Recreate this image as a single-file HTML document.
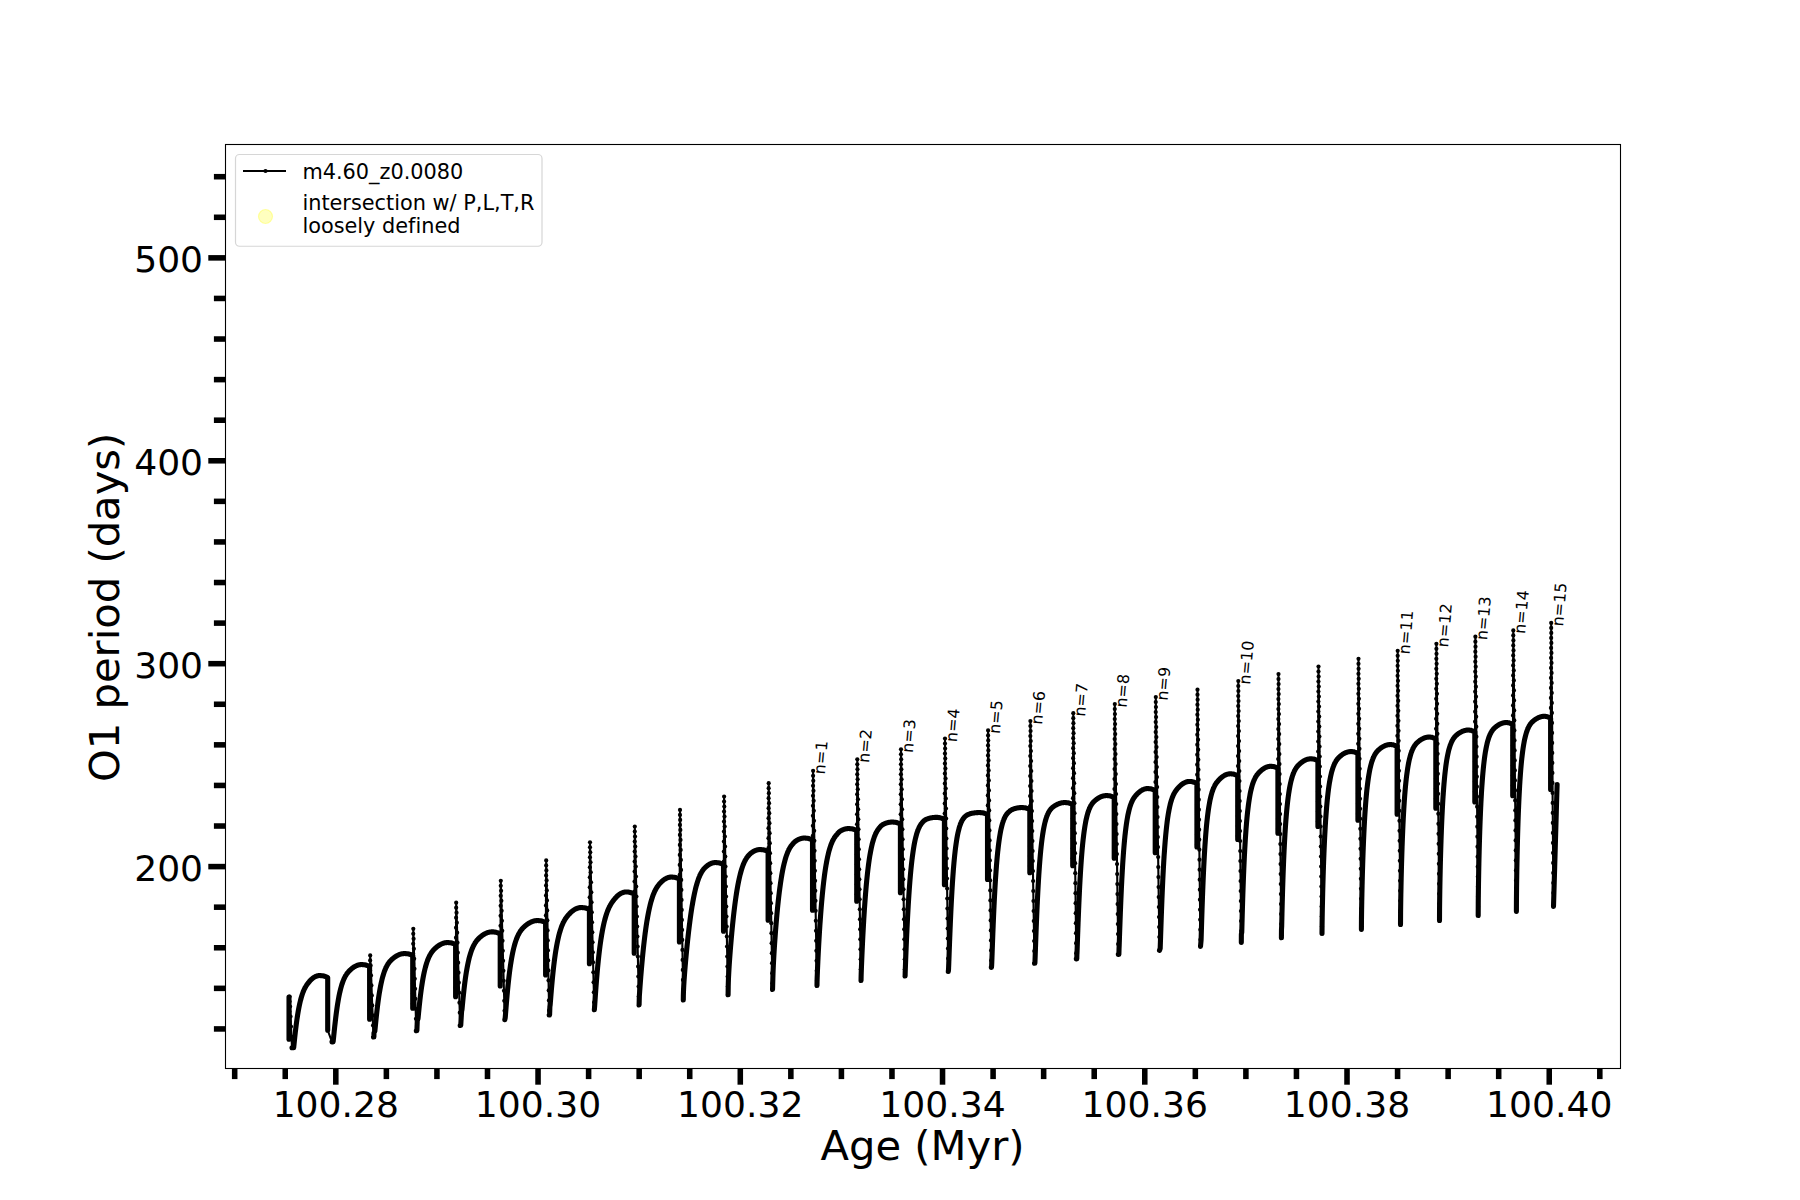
<!DOCTYPE html>
<html><head><meta charset="utf-8"><title>O1 period vs Age</title>
<style>
html,body{margin:0;padding:0;background:#fff;}
body{width:1800px;height:1200px;overflow:hidden;}
svg{display:block;font-family:"DejaVu Sans","Liberation Sans",sans-serif;font-variant-ligatures:none;font-feature-settings:"liga" 0,"clig" 0;}
</style></head><body>
<svg width="1800" height="1200" viewBox="0 0 1800 1200">
<rect width="1800" height="1200" fill="#fff"/>
<g fill="none" stroke="#000" stroke-linejoin="round" stroke-linecap="round">
<g stroke-width="2.1"><path d="M289 1039.25L289.6 996.6L292 1047.75"/><path d="M327.7 1030.25L332 1041.85"/><path d="M369.6 1019.25L370.2 955.4L373.5 1036.95"/><path d="M412.7 1008.25L413.3 928.8L416.3 1030.75"/><path d="M455.6 996.75L456.2 902.7L460.2 1025.45"/><path d="M500.2 985.95L500.8 880.8L504.8 1019.75"/><path d="M545.6 974.95L546.2 860.4L549.2 1014.95"/><path d="M589.4 963.65L590 842.3L594.3 1009.75"/><path d="M634.2 953.25L634.8 826.5L639 1004.95"/><path d="M679.4 942.05L680 809.9L683.3 999.95"/><path d="M723.5 931.25L724.1 796.5L728 994.75"/><path d="M768.1 920.25L768.7 783.2L772.5 989.55"/><path d="M812.5 910.25L813.1 770.8L817 985.45"/><path d="M856.7 901.25L857.3 759.3L861 980.45"/><path d="M900.4 892.75L901 749.3L905 976.05"/><path d="M944.4 884.75L945 738.5L948.3 971.55"/><path d="M987.5 879.55L988.1 730.4L991.3 967.35"/><path d="M1029.8 872.75L1030.4 721L1034.5 963.25"/><path d="M1072.7 865.75L1073.3 713.2L1076.3 958.85"/><path d="M1114.2 858.25L1114.8 704.1L1118.3 954.35"/><path d="M1155.2 852.75L1155.8 697.1L1159.5 950.45"/><path d="M1196.9 847L1197.5 689.7L1200.5 946.35"/><path d="M1237.7 839.5L1238.3 681L1241.3 942.35"/><path d="M1277.9 833.25L1278.5 674.1L1281.4 937.75"/><path d="M1317.9 826.5L1318.5 666.5L1322 933.45"/><path d="M1357.9 820.25L1358.5 658.8L1361.4 929.35"/><path d="M1397.1 814.25L1397.7 650.8L1400.5 924.55"/><path d="M1435.8 808.25L1436.4 643.8L1439.5 920.45"/><path d="M1474.8 802L1475.4 636.7L1478.2 915.45"/><path d="M1512.7 795.75L1513.3 630.4L1516.4 911.35"/><path d="M1550.6 789.5L1551.2 622.9L1553.5 906.35"/></g>
<g stroke-width="5.1"><path d="M289 997.05L289 1039.25"/><path d="M292 1047.75L293.67 1047.75L293.88 1045.75L294.08 1043.75L294.29 1041.75L294.49 1039.75L294.71 1037.75L294.92 1035.75L295.14 1033.75L295.26 1032.75L295.37 1031.75L295.49 1030.75L295.61 1029.75L295.73 1028.75L295.85 1027.75L295.97 1026.75L296.1 1025.75L296.22 1024.75L296.35 1023.75L296.49 1022.75L296.62 1021.75L296.76 1020.75L296.9 1019.75L297.04 1018.75L297.19 1017.75L297.34 1016.75L297.5 1015.75L297.65 1014.75L297.82 1013.75L297.98 1012.75L298.15 1011.75L298.33 1010.75L298.51 1009.75L298.69 1008.75L298.88 1007.75L299.08 1006.75L299.29 1005.75L299.5 1004.75L299.71 1003.75L299.94 1002.75L300.18 1001.75L300.42 1000.75L300.68 999.75L300.94 998.75L301.22 997.75L301.51 996.75L301.82 995.75L302.14 994.75L302.48 993.75L302.84 992.75L303.22 991.75L303.63 990.75L304.07 989.75L304.18 989.5L304.3 989.25L304.42 989L304.54 988.75L304.66 988.5L304.79 988.25L304.92 988L305.05 987.75L305.18 987.5L305.32 987.25L305.46 987L305.61 986.75L305.75 986.5L305.9 986.25L306.06 986L306.22 985.75L306.38 985.5L306.51 985.3L306.95 984.66L307.39 984.04L307.83 983.45L308.27 982.87L308.71 982.32L309.15 981.79L309.59 981.28L310.03 980.79L310.47 980.33L310.91 979.88L311.35 979.46L311.79 979.06L312.23 978.68L312.67 978.32L313.11 977.99L313.55 977.67L313.99 977.38L314.43 977.11L314.87 976.86L315.3 976.63L315.74 976.43L316.18 976.24L316.62 976.08L317.06 975.94L317.5 975.82L317.94 975.72L318.38 975.65L318.82 975.59L319.26 975.56L319.7 975.55L320.7 975.58L321.7 975.67L322.7 975.83L323.7 976.05L324.7 976.33L325.7 976.67L326.7 977.08L327.7 977.55L327.7 978.55L327.7 1030.25"/><path d="M332 1041.85L333.14 1041.85L333.35 1039.85L333.56 1037.85L333.76 1035.85L333.97 1033.85L334.17 1031.85L334.38 1029.85L334.59 1027.85L334.8 1025.85L335.02 1023.85L335.13 1022.85L335.25 1021.85L335.36 1020.85L335.48 1019.85L335.59 1018.85L335.71 1017.85L335.83 1016.85L335.96 1015.85L336.08 1014.85L336.21 1013.85L336.34 1012.85L336.47 1011.85L336.61 1010.85L336.75 1009.85L336.89 1008.85L337.03 1007.85L337.18 1006.85L337.33 1005.85L337.48 1004.85L337.64 1003.85L337.8 1002.85L337.97 1001.85L338.14 1000.85L338.31 999.85L338.49 998.85L338.67 997.85L338.87 996.85L339.06 995.85L339.27 994.85L339.48 993.85L339.69 992.85L339.92 991.85L340.15 990.85L340.4 989.85L340.65 988.85L340.91 987.85L341.19 986.85L341.48 985.85L341.78 984.85L342.1 983.85L342.44 982.85L342.8 981.85L343.18 980.85L343.59 979.85L344.02 978.85L344.13 978.6L344.25 978.35L344.37 978.1L344.49 977.85L344.61 977.6L344.74 977.35L344.87 977.1L345 976.85L345.13 976.6L345.27 976.35L345.41 976.1L345.55 975.85L345.69 975.6L345.84 975.35L346 975.1L346.15 974.85L346.32 974.6L346.48 974.35L346.65 974.1L346.83 973.85L347.01 973.6L347.19 973.35L347.38 973.1L347.58 972.85L347.78 972.6L347.99 972.35L348.21 972.1L348.7 971.56L349.15 971.08L349.59 970.62L350.04 970.18L350.48 969.76L350.93 969.35L351.37 968.96L351.81 968.58L352.26 968.22L352.7 967.88L353.15 967.56L353.59 967.25L354.04 966.96L354.48 966.68L354.93 966.42L355.37 966.18L355.82 965.96L356.26 965.75L356.71 965.56L357.15 965.38L357.6 965.22L358.04 965.08L358.49 964.96L358.93 964.85L359.38 964.76L359.82 964.68L360.27 964.62L360.71 964.58L361.16 964.56L361.6 964.55L362.6 964.58L363.6 964.67L364.6 964.83L365.6 965.05L366.6 965.33L367.6 965.67L368.6 966.08L369.6 966.55L369.6 967.55L369.6 1019.25"/><path d="M373.5 1036.95L373.89 1036.95L373.97 1032.95L374.86 1030.95L375.06 1028.95L375.26 1026.95L375.46 1024.95L375.66 1022.95L375.86 1020.95L376.07 1018.95L376.28 1016.95L376.49 1014.95L376.71 1012.95L376.82 1011.95L376.93 1010.95L377.05 1009.95L377.17 1008.95L377.28 1007.95L377.4 1006.95L377.53 1005.95L377.65 1004.95L377.78 1003.95L377.9 1002.95L378.04 1001.95L378.17 1000.95L378.31 999.95L378.45 998.95L378.59 997.95L378.73 996.95L378.88 995.95L379.03 994.95L379.19 993.95L379.35 992.95L379.51 991.95L379.68 990.95L379.85 989.95L380.03 988.95L380.21 987.95L380.4 986.95L380.59 985.95L380.79 984.95L381 983.95L381.21 982.95L381.44 981.95L381.67 980.95L381.9 979.95L382.15 978.95L382.41 977.95L382.68 976.95L382.96 975.95L383.26 974.95L383.56 973.95L383.89 972.95L384.23 971.95L384.6 970.95L384.99 969.95L385.4 968.95L385.84 967.95L385.96 967.7L386.07 967.45L386.19 967.2L386.32 966.95L386.44 966.7L386.57 966.45L386.7 966.2L386.83 965.95L386.97 965.7L387.11 965.45L387.25 965.2L387.39 964.95L387.54 964.7L387.69 964.45L387.85 964.2L388.01 963.95L388.17 963.7L388.34 963.45L388.51 963.2L388.69 962.95L388.87 962.7L389.06 962.45L389.25 962.2L389.45 961.95L389.66 961.7L389.87 961.45L390.09 961.2L390.32 960.95L390.55 960.7L390.8 960.45L390.95 960.3L391.41 959.86L391.87 959.43L392.33 959.02L392.78 958.62L393.24 958.24L393.7 957.87L394.16 957.52L394.62 957.18L395.08 956.86L395.53 956.55L395.99 956.26L396.45 955.98L396.91 955.72L397.37 955.47L397.83 955.24L398.28 955.02L398.74 954.82L399.2 954.63L399.66 954.46L400.12 954.3L400.58 954.16L401.03 954.03L401.49 953.92L401.95 953.82L402.41 953.74L402.87 953.67L403.33 953.62L403.78 953.58L404.24 953.56L404.7 953.55L405.7 953.58L406.7 953.67L407.7 953.83L408.7 954.05L409.7 954.33L410.7 954.67L411.7 955.08L412.7 955.55L412.7 956.55L412.7 1008.25"/><path d="M416.3 1030.75L416.88 1030.75L416.96 1028.75L417.04 1026.75L417.12 1024.75L417.2 1022.75L417.29 1020.75L418.01 1018.75L418.2 1016.75L418.39 1014.75L418.59 1012.75L418.79 1010.75L418.99 1008.75L419.19 1006.75L419.4 1004.75L419.62 1002.75L419.84 1000.75L419.96 999.75L420.07 998.75L420.19 997.75L420.31 996.75L420.43 995.75L420.55 994.75L420.68 993.75L420.81 992.75L420.94 991.75L421.07 990.75L421.21 989.75L421.35 988.75L421.49 987.75L421.63 986.75L421.78 985.75L421.93 984.75L422.09 983.75L422.25 982.75L422.41 981.75L422.58 980.75L422.75 979.75L422.92 978.75L423.11 977.75L423.29 976.75L423.49 975.75L423.68 974.75L423.89 973.75L424.1 972.75L424.32 971.75L424.55 970.75L424.78 969.75L425.03 968.75L425.28 967.75L425.55 966.75L425.83 965.75L426.12 964.75L426.42 963.75L426.74 962.75L427.08 961.75L427.43 960.75L427.81 959.75L428.21 958.75L428.64 957.75L429.1 956.75L429.22 956.5L429.34 956.25L429.47 956L429.59 955.75L429.72 955.5L429.86 955.25L429.99 955L430.13 954.75L430.27 954.5L430.42 954.25L430.56 954L430.71 953.75L430.87 953.5L431.03 953.25L431.19 953L431.36 952.75L431.53 952.5L431.7 952.25L431.88 952L432.07 951.75L432.26 951.5L432.46 951.25L432.66 951L432.87 950.75L433.09 950.5L433.31 950.25L433.5 950.05L433.97 949.56L434.44 949.08L434.91 948.62L435.38 948.18L435.85 947.76L436.32 947.35L436.79 946.96L437.26 946.58L437.73 946.22L438.2 945.88L438.67 945.56L439.14 945.25L439.61 944.96L440.08 944.68L440.55 944.42L441.02 944.18L441.49 943.96L441.96 943.75L442.43 943.56L442.9 943.38L443.37 943.22L443.84 943.08L444.31 942.96L444.78 942.85L445.25 942.76L445.72 942.68L446.19 942.62L446.66 942.58L447.13 942.56L447.6 942.55L448.6 942.58L449.6 942.67L450.6 942.83L451.6 943.05L452.6 943.33L453.6 943.67L454.6 944.08L455.6 944.55L455.6 945.55L455.6 996.75"/><path d="M460.2 1025.45L460.74 1025.45L460.86 1023.45L460.98 1021.45L461.1 1019.45L461.22 1017.45L461.34 1015.45L461.47 1013.45L461.59 1011.45L462 1009.45L462.18 1007.45L462.37 1005.45L462.56 1003.45L462.75 1001.45L462.95 999.45L463.15 997.45L463.36 995.45L463.57 993.45L463.79 991.45L463.9 990.45L464.01 989.45L464.13 988.45L464.24 987.45L464.36 986.45L464.48 985.45L464.61 984.45L464.73 983.45L464.86 982.45L464.99 981.45L465.13 980.45L465.26 979.45L465.4 978.45L465.54 977.45L465.69 976.45L465.84 975.45L465.99 974.45L466.15 973.45L466.31 972.45L466.47 971.45L466.64 970.45L466.81 969.45L466.99 968.45L467.17 967.45L467.36 966.45L467.55 965.45L467.75 964.45L467.96 963.45L468.17 962.45L468.39 961.45L468.62 960.45L468.86 959.45L469.1 958.45L469.36 957.45L469.63 956.45L469.91 955.45L470.2 954.45L470.5 953.45L470.82 952.45L471.16 951.45L471.52 950.45L471.89 949.45L472.29 948.45L472.72 947.45L473.17 946.45L473.29 946.2L473.41 945.95L473.54 945.7L473.66 945.45L473.79 945.2L473.92 944.95L474.06 944.7L474.2 944.45L474.33 944.2L474.48 943.95L474.62 943.7L474.77 943.45L474.92 943.2L475.08 942.95L475.24 942.7L475.4 942.45L475.57 942.2L475.75 941.95L475.92 941.7L476.1 941.45L476.29 941.2L476.48 940.95L476.68 940.7L476.89 940.45L477.1 940.2L477.31 939.95L477.54 939.7L477.77 939.45L477.86 939.35L478.34 938.86L478.82 938.38L479.3 937.92L479.78 937.48L480.25 937.06L480.73 936.65L481.21 936.26L481.69 935.88L482.17 935.52L482.64 935.18L483.12 934.86L483.6 934.55L484.08 934.26L484.55 933.98L485.03 933.72L485.51 933.48L485.99 933.26L486.47 933.05L486.94 932.86L487.42 932.68L487.9 932.52L488.38 932.38L488.86 932.26L489.33 932.15L489.81 932.06L490.29 931.98L490.77 931.92L491.24 931.88L491.72 931.86L492.2 931.85L493.2 931.88L494.2 931.97L495.2 932.13L496.2 932.35L497.2 932.63L498.2 932.97L499.2 933.38L500.2 933.85L500.2 934.85L500.2 985.95"/><path d="M504.8 1019.75L504.8 1019.75L505.22 1017.75L505.39 1015.75L505.55 1013.75L505.71 1011.75L505.87 1009.75L506.03 1007.75L506.19 1005.75L506.36 1003.75L506.52 1001.75L506.69 999.75L506.87 997.75L507.04 995.75L507.22 993.75L507.41 991.75L507.6 989.75L507.79 987.75L507.99 985.75L508.2 983.75L508.41 981.75L508.63 979.75L508.74 978.75L508.86 977.75L508.97 976.75L509.09 975.75L509.21 974.75L509.34 973.75L509.46 972.75L509.59 971.75L509.72 970.75L509.85 969.75L509.99 968.75L510.13 967.75L510.27 966.75L510.42 965.75L510.56 964.75L510.72 963.75L510.87 962.75L511.03 961.75L511.2 960.75L511.36 959.75L511.54 958.75L511.71 957.75L511.9 956.75L512.08 955.75L512.28 954.75L512.48 953.75L512.68 952.75L512.9 951.75L513.12 950.75L513.34 949.75L513.58 948.75L513.83 947.75L514.08 946.75L514.35 945.75L514.62 944.75L514.91 943.75L515.22 942.75L515.53 941.75L515.87 940.75L516.22 939.75L516.59 938.75L516.99 937.75L517.41 936.75L517.85 935.75L518.33 934.75L518.46 934.5L518.59 934.25L518.72 934L518.85 933.75L518.99 933.5L519.12 933.25L519.27 933L519.41 932.75L519.56 932.5L519.71 932.25L519.86 932L520.02 931.75L520.18 931.5L520.35 931.25L520.52 931L520.69 930.75L520.87 930.5L521.06 930.25L521.25 930L521.44 929.75L521.64 929.5L521.85 929.25L522.06 929L522.28 928.75L522.51 928.5L522.74 928.25L522.93 928.05L523.42 927.56L523.91 927.08L524.4 926.62L524.89 926.18L525.38 925.76L525.87 925.35L526.36 924.96L526.84 924.58L527.33 924.22L527.82 923.88L528.31 923.56L528.8 923.25L529.29 922.96L529.78 922.68L530.27 922.42L530.76 922.18L531.24 921.96L531.73 921.75L532.22 921.56L532.71 921.38L533.2 921.22L533.69 921.08L534.18 920.96L534.67 920.85L535.16 920.76L535.64 920.68L536.13 920.62L536.62 920.58L537.11 920.56L537.6 920.55L538.6 920.58L539.6 920.67L540.6 920.83L541.6 921.05L542.6 921.33L543.6 921.67L544.6 922.08L545.6 922.55L545.6 923.55L545.6 974.95"/><path d="M549.2 1014.95L549.6 1014.95L549.67 1012.95L549.74 1010.95L549.81 1008.95L549.88 1006.95L550.15 1004.95L550.31 1002.95L550.47 1000.95L550.63 998.95L550.79 996.95L550.95 994.95L551.11 992.95L551.28 990.95L551.44 988.95L551.62 986.95L551.79 984.95L551.98 982.95L552.16 980.95L552.35 978.95L552.55 976.95L552.75 974.95L552.96 972.95L553.17 970.95L553.39 968.95L553.62 966.95L553.73 965.95L553.85 964.95L553.97 963.95L554.1 962.95L554.22 961.95L554.35 960.95L554.48 959.95L554.61 958.95L554.75 957.95L554.89 956.95L555.03 955.95L555.17 954.95L555.32 953.95L555.47 952.95L555.62 951.95L555.78 950.95L555.94 949.95L556.11 948.95L556.28 947.95L556.45 946.95L556.63 945.95L556.82 944.95L557.01 943.95L557.2 942.95L557.4 941.95L557.61 940.95L557.82 939.95L558.04 938.95L558.27 937.95L558.5 936.95L558.74 935.95L559 934.95L559.26 933.95L559.53 932.95L559.82 931.95L560.11 930.95L560.42 929.95L560.75 928.95L561.09 927.95L561.45 926.95L561.83 925.95L562.23 924.95L562.66 923.95L563.11 922.95L563.6 921.95L563.73 921.7L563.85 921.45L563.99 921.2L564.12 920.95L564.26 920.7L564.4 920.45L564.54 920.2L564.69 919.95L564.84 919.7L564.99 919.45L565.14 919.2L565.3 918.95L565.46 918.7L565.63 918.45L565.8 918.2L565.98 917.95L566.16 917.7L566.34 917.45L566.53 917.2L566.64 917.05L567.14 916.43L567.63 915.83L568.12 915.25L568.61 914.69L569.1 914.15L569.6 913.63L570.09 913.13L570.58 912.66L571.07 912.2L571.56 911.77L572.05 911.36L572.55 910.97L573.04 910.6L573.53 910.25L574.02 909.92L574.51 909.62L575.01 909.33L575.5 909.07L575.99 908.83L576.48 908.61L576.97 908.4L577.47 908.23L577.96 908.07L578.45 907.93L578.94 907.81L579.43 907.72L579.92 907.64L580.42 907.59L580.91 907.56L581.4 907.55L582.4 907.58L583.4 907.67L584.4 907.83L585.4 908.05L586.4 908.33L587.4 908.67L588.4 909.08L589.4 909.55L589.4 910.55L589.4 963.65"/><path d="M594.3 1009.75L594.37 1009.75L594.52 1007.75L594.66 1005.75L594.8 1003.75L594.93 1001.75L595.07 999.75L595.2 997.75L595.34 995.75L595.48 993.75L595.63 991.75L595.77 989.75L595.92 987.75L596.07 985.75L596.23 983.75L596.38 981.75L596.54 979.75L596.71 977.75L596.88 975.75L597.05 973.75L597.22 971.75L597.4 969.75L597.59 967.75L597.78 965.75L597.98 963.75L598.18 961.75L598.38 959.75L598.6 957.75L598.82 955.75L599.05 953.75L599.28 951.75L599.4 950.75L599.52 949.75L599.65 948.75L599.78 947.75L599.9 946.75L600.04 945.75L600.17 944.75L600.31 943.75L600.45 942.75L600.59 941.75L600.74 940.75L600.88 939.75L601.04 938.75L601.19 937.75L601.35 936.75L601.51 935.75L601.68 934.75L601.85 933.75L602.03 932.75L602.2 931.75L602.39 930.75L602.58 929.75L602.77 928.75L602.97 927.75L603.18 926.75L603.39 925.75L603.61 924.75L603.83 923.75L604.06 922.75L604.3 921.75L604.55 920.75L604.81 919.75L605.08 918.75L605.36 917.75L605.65 916.75L605.95 915.75L606.26 914.75L606.59 913.75L606.94 912.75L607.3 911.75L607.68 910.75L608.09 909.75L608.52 908.75L608.97 907.75L609.46 906.75L609.59 906.5L609.71 906.25L609.85 906L609.98 905.75L610.12 905.5L610.26 905.25L610.4 905L610.54 904.75L610.69 904.5L610.84 904.25L610.99 904L611.15 903.75L611.68 902.93L612.18 902.19L612.68 901.47L613.18 900.78L613.68 900.11L614.19 899.47L614.69 898.86L615.19 898.27L615.69 897.71L616.19 897.17L616.69 896.66L617.19 896.18L617.69 895.72L618.19 895.29L618.69 894.89L619.19 894.51L619.69 894.16L620.19 893.83L620.69 893.53L621.19 893.26L621.69 893.01L622.2 892.79L622.7 892.59L623.2 892.42L623.7 892.28L624.2 892.16L624.7 892.07L625.2 892L625.7 891.96L626.2 891.95L627.2 891.98L628.2 892.07L629.2 892.23L630.2 892.45L631.2 892.73L632.2 893.07L633.2 893.48L634.2 893.95L634.2 894.95L634.2 953.25"/><path d="M639 1004.95L639.11 1004.95L639.21 1000.95L639.26 998.95L639.32 996.95L639.42 994.95L639.56 992.95L639.7 990.95L639.85 988.95L639.99 986.95L640.14 984.95L640.29 982.95L640.44 980.95L640.59 978.95L640.75 976.95L640.91 974.95L641.08 972.95L641.25 970.95L641.42 968.95L641.59 966.95L641.77 964.95L641.95 962.95L642.13 960.95L642.32 958.95L642.51 956.95L642.71 954.95L642.91 952.95L643.12 950.95L643.33 948.95L643.54 946.95L643.76 944.95L643.99 942.95L644.22 940.95L644.46 938.95L644.7 936.95L644.83 935.95L644.95 934.95L645.08 933.95L645.21 932.95L645.35 931.95L645.48 930.95L645.62 929.95L645.76 928.95L645.9 927.95L646.05 926.95L646.19 925.95L646.34 924.95L646.5 923.95L646.65 922.95L646.81 921.95L646.97 920.95L647.14 919.95L647.31 918.95L647.48 917.95L647.66 916.95L647.84 915.95L648.02 914.95L648.21 913.95L648.4 912.95L648.6 911.95L648.81 910.95L649.02 909.95L649.23 908.95L649.46 907.95L649.69 906.95L649.92 905.95L650.17 904.95L650.42 903.95L650.68 902.95L650.95 901.95L651.23 900.95L651.52 899.95L651.83 898.95L652.15 897.95L652.48 896.95L652.83 895.95L653.2 894.95L653.58 893.95L653.99 892.95L654.43 891.95L654.54 891.7L654.66 891.45L654.77 891.2L654.89 890.95L655.01 890.7L655.14 890.45L655.26 890.2L655.39 889.95L655.52 889.7L655.65 889.45L655.79 889.2L655.93 888.95L656.07 888.7L656.21 888.45L656.36 888.2L656.51 887.95L656.66 887.7L656.82 887.45L656.98 887.2L657.14 886.95L657.31 886.7L657.48 886.45L657.66 886.2L657.84 885.95L658.03 885.7L658.14 885.55L658.59 884.99L659.03 884.45L659.47 883.93L659.91 883.43L660.35 882.95L660.79 882.49L661.24 882.05L661.68 881.62L662.12 881.21L662.56 880.83L663 880.46L663.45 880.11L663.89 879.78L664.33 879.47L664.77 879.17L665.21 878.9L665.66 878.65L666.1 878.41L666.54 878.19L666.98 877.99L667.42 877.81L667.86 877.65L668.31 877.51L668.75 877.39L669.19 877.29L669.63 877.2L670.07 877.13L670.52 877.09L670.96 877.06L671.4 877.05L672.4 877.08L673.4 877.17L674.4 877.33L675.4 877.55L676.4 877.83L677.4 878.17L678.4 878.58L679.4 879.05L679.4 880.05L679.4 942.05"/><path d="M683.3 999.95L683.3 999.95L683.35 995.95L683.4 993.95L683.47 991.95L683.55 989.95L683.64 987.95L683.74 985.95L683.86 983.95L683.98 981.95L684.11 979.95L684.25 977.95L684.39 975.95L684.54 973.95L684.7 971.95L684.85 969.95L685.02 967.95L685.18 965.95L685.36 963.95L685.53 961.95L685.71 959.95L685.89 957.95L686.08 955.95L686.26 953.95L686.46 951.95L686.65 949.95L686.85 947.95L687.05 945.95L687.26 943.95L687.47 941.95L687.68 939.95L687.9 937.95L688.12 935.95L688.34 933.95L688.57 931.95L688.81 929.95L689.05 927.95L689.29 925.95L689.55 923.95L689.8 921.95L689.93 920.95L690.07 919.95L690.2 918.95L690.34 917.95L690.47 916.95L690.61 915.95L690.75 914.95L690.9 913.95L691.04 912.95L691.19 911.95L691.34 910.95L691.49 909.95L691.65 908.95L691.81 907.95L691.97 906.95L692.13 905.95L692.3 904.95L692.47 903.95L692.64 902.95L692.81 901.95L692.99 900.95L693.18 899.95L693.36 898.95L693.55 897.95L693.75 896.95L693.95 895.95L694.15 894.95L694.36 893.95L694.58 892.95L694.8 891.95L695.03 890.95L695.26 889.95L695.51 888.95L695.75 887.95L696.01 886.95L696.28 885.95L696.56 884.95L696.84 883.95L697.14 882.95L697.45 881.95L697.78 880.95L698.12 879.95L698.47 878.95L698.85 877.95L699.25 876.95L699.35 876.7L699.46 876.45L699.57 876.2L699.67 875.95L699.78 875.7L699.9 875.45L700.01 875.2L700.13 874.95L700.24 874.7L700.36 874.45L700.49 874.2L700.61 873.95L700.74 873.7L700.87 873.45L701 873.2L701.13 872.95L701.27 872.7L701.41 872.45L701.56 872.2L701.71 871.95L701.86 871.7L702.01 871.45L702.17 871.2L702.33 870.95L702.5 870.7L702.67 870.45L702.85 870.2L703.03 869.95L703.22 869.7L703.41 869.45L703.61 869.2L703.82 868.95L704.03 868.7L704.25 868.45L704.49 868.2L704.73 867.95L704.88 867.8L705.23 867.46L705.58 867.12L705.94 866.8L706.29 866.49L706.65 866.2L707 865.91L707.35 865.64L707.71 865.37L708.06 865.12L708.42 864.88L708.77 864.66L709.13 864.44L709.48 864.24L709.83 864.04L710.19 863.86L710.54 863.69L710.9 863.54L711.25 863.39L711.6 863.26L711.96 863.13L712.31 863.02L712.67 862.92L713.02 862.84L713.38 862.76L713.73 862.7L714.08 862.64L714.44 862.6L714.79 862.57L715.15 862.56L715.5 862.55L716.5 862.58L717.5 862.67L718.5 862.83L719.5 863.05L720.5 863.33L721.5 863.67L722.5 864.08L723.5 864.55L723.5 865.55L723.5 931.25"/><path d="M728 994.75L728.11 994.75L728.16 990.75L728.22 986.75L728.32 982.75L728.39 980.75L728.46 978.75L728.55 976.75L728.65 974.75L728.75 972.75L728.86 970.75L728.98 968.75L729.1 966.75L729.23 964.75L729.36 962.75L729.5 960.75L729.64 958.75L729.79 956.75L729.94 954.75L730.09 952.75L730.25 950.75L730.41 948.75L730.57 946.75L730.74 944.75L730.91 942.75L731.08 940.75L731.25 938.75L731.43 936.75L731.62 934.75L731.8 932.75L731.99 930.75L732.18 928.75L732.38 926.75L732.58 924.75L732.79 922.75L733 920.75L733.21 918.75L733.43 916.75L733.65 914.75L733.88 912.75L734.12 910.75L734.36 908.75L734.48 907.75L734.61 906.75L734.74 905.75L734.86 904.75L734.99 903.75L735.13 902.75L735.26 901.75L735.4 900.75L735.54 899.75L735.68 898.75L735.82 897.75L735.97 896.75L736.11 895.75L736.27 894.75L736.42 893.75L736.58 892.75L736.74 891.75L736.9 890.75L737.07 889.75L737.24 888.75L737.41 887.75L737.59 886.75L737.77 885.75L737.95 884.75L738.14 883.75L738.34 882.75L738.54 881.75L738.74 880.75L738.96 879.75L739.17 878.75L739.4 877.75L739.63 876.75L739.87 875.75L740.11 874.75L740.37 873.75L740.63 872.75L740.91 871.75L741.19 870.75L741.49 869.75L741.8 868.75L742.13 867.75L742.47 866.75L742.83 865.75L743.21 864.75L743.62 863.75L743.72 863.5L743.83 863.25L743.94 863L744.05 862.75L744.16 862.5L744.27 862.25L744.39 862L744.51 861.75L744.63 861.5L744.75 861.25L744.88 861L745.01 860.75L745.14 860.5L745.27 860.25L745.41 860L745.55 859.75L745.69 859.5L745.83 859.25L745.98 859L746.14 858.75L746.29 858.5L746.45 858.25L746.62 858L746.79 857.75L746.96 857.5L747.14 857.25L747.33 857L747.52 856.75L747.71 856.5L747.92 856.25L748.13 856L748.35 855.75L748.57 855.5L748.79 855.25L749.01 855L749.24 854.75L749.48 854.5L749.73 854.25L749.99 854L750.27 853.75L750.5 853.55L750.82 853.29L751.14 853.03L751.46 852.79L751.78 852.55L752.1 852.33L752.42 852.11L752.74 851.9L753.06 851.7L753.38 851.51L753.7 851.33L754.02 851.15L754.34 850.99L754.66 850.83L754.98 850.69L755.3 850.55L755.62 850.42L755.94 850.3L756.26 850.19L756.58 850.09L756.9 849.99L757.22 849.91L757.54 849.83L757.86 849.77L758.18 849.71L758.5 849.66L758.82 849.62L759.14 849.59L759.46 849.57L759.78 849.55L760.1 849.55L761.1 849.58L762.1 849.67L763.1 849.83L764.1 850.05L765.1 850.33L766.1 850.67L767.1 851.08L768.1 851.55L768.1 852.55L768.1 920.25"/><path d="M772.5 989.55L772.56 989.55L772.66 985.55L772.71 983.55L772.76 981.55L772.82 979.55L772.87 977.55L772.93 975.55L773 973.55L773.07 971.55L773.15 969.55L773.24 967.55L773.33 965.55L773.43 963.55L773.53 961.55L773.64 959.55L773.75 957.55L773.86 955.55L773.98 953.55L774.1 951.55L774.23 949.55L774.36 947.55L774.49 945.55L774.62 943.55L774.76 941.55L774.9 939.55L775.05 937.55L775.19 935.55L775.34 933.55L775.49 931.55L775.65 929.55L775.81 927.55L775.97 925.55L776.14 923.55L776.3 921.55L776.48 919.55L776.65 917.55L776.83 915.55L777.01 913.55L777.2 911.55L777.39 909.55L777.59 907.55L777.79 905.55L778 903.55L778.21 901.55L778.43 899.55L778.66 897.55L778.77 896.55L778.89 895.55L779.01 894.55L779.13 893.55L779.25 892.55L779.37 891.55L779.5 890.55L779.63 889.55L779.76 888.55L779.89 887.55L780.03 886.55L780.17 885.55L780.31 884.55L780.45 883.55L780.59 882.55L780.74 881.55L780.9 880.55L781.05 879.55L781.21 878.55L781.37 877.55L781.54 876.55L781.71 875.55L781.88 874.55L782.06 873.55L782.24 872.55L782.43 871.55L782.62 870.55L782.82 869.55L783.02 868.55L783.23 867.55L783.45 866.55L783.67 865.55L783.91 864.55L784.14 863.55L784.39 862.55L784.65 861.55L784.92 860.55L785.2 859.55L785.49 858.55L785.79 857.55L786.11 856.55L786.45 855.55L786.8 854.55L787.18 853.55L787.58 852.55L787.68 852.3L787.78 852.05L787.89 851.8L788 851.55L788.11 851.3L788.22 851.05L788.34 850.8L788.45 850.55L788.57 850.3L788.69 850.05L788.82 849.8L788.94 849.55L789.07 849.3L789.21 849.05L789.34 848.8L789.48 848.55L789.62 848.3L789.76 848.05L789.91 847.8L790.06 847.55L790.21 847.3L790.37 847.05L790.53 846.8L790.7 846.55L790.87 846.3L791.05 846.05L791.23 845.8L791.42 845.55L791.61 845.3L791.81 845.05L792.02 844.8L792.23 844.55L792.46 844.3L792.69 844.05L792.91 843.8L793.11 843.55L793.31 843.3L793.53 843.05L793.75 842.8L793.99 842.55L794.24 842.3L794.51 842.05L794.79 841.8L795.09 841.55L795.42 841.3L795.77 841.05L796.06 840.85L796.35 840.66L796.64 840.48L796.93 840.3L797.22 840.13L797.51 839.97L797.8 839.81L798.09 839.66L798.39 839.52L798.68 839.38L798.97 839.25L799.26 839.13L799.55 839.01L799.84 838.9L800.13 838.8L800.42 838.7L800.72 838.61L801.01 838.53L801.3 838.45L801.59 838.38L801.88 838.32L802.17 838.26L802.46 838.21L802.75 838.17L803.04 838.13L803.34 838.1L803.63 838.08L803.92 838.06L804.21 838.05L804.5 838.05L805.5 838.08L806.5 838.17L807.5 838.33L808.5 838.55L809.5 838.83L810.5 839.17L811.5 839.58L812.5 840.05L812.5 841.05L812.5 910.25"/><path d="M817 985.45L817 985.45L817.05 981.45L817.11 979.45L817.18 977.45L817.26 975.45L817.34 973.45L817.42 971.45L817.5 969.45L817.59 967.45L817.68 965.45L817.77 963.45L817.86 961.45L817.96 959.45L818.05 957.45L818.15 955.45L818.25 953.45L818.35 951.45L818.46 949.45L818.57 947.45L818.67 945.45L818.78 943.45L818.9 941.45L819.01 939.45L819.13 937.45L819.25 935.45L819.37 933.45L819.49 931.45L819.62 929.45L819.75 927.45L819.88 925.45L820.01 923.45L820.15 921.45L820.29 919.45L820.43 917.45L820.58 915.45L820.73 913.45L820.88 911.45L821.04 909.45L821.2 907.45L821.36 905.45L821.53 903.45L821.7 901.45L821.88 899.45L822.06 897.45L822.25 895.45L822.44 893.45L822.64 891.45L822.84 889.45L823.06 887.45L823.16 886.45L823.27 885.45L823.39 884.45L823.5 883.45L823.62 882.45L823.73 881.45L823.85 880.45L823.98 879.45L824.1 878.45L824.23 877.45L824.36 876.45L824.49 875.45L824.62 874.45L824.76 873.45L824.9 872.45L825.05 871.45L825.19 870.45L825.34 869.45L825.5 868.45L825.65 867.45L825.82 866.45L825.98 865.45L826.15 864.45L826.33 863.45L826.51 862.45L826.69 861.45L826.88 860.45L827.08 859.45L827.28 858.45L827.49 857.45L827.7 856.45L827.93 855.45L828.16 854.45L828.4 853.45L828.65 852.45L828.91 851.45L829.18 850.45L829.46 849.45L829.76 848.45L830.07 847.45L830.4 846.45L830.74 845.45L831.11 844.45L831.5 843.45L831.6 843.2L831.7 842.95L831.8 842.7L831.91 842.45L832.02 842.2L832.13 841.95L832.24 841.7L832.36 841.45L832.47 841.2L832.59 840.95L832.71 840.7L832.83 840.45L832.96 840.2L833.09 839.95L833.22 839.7L833.35 839.45L833.49 839.2L833.63 838.95L833.78 838.7L833.92 838.45L834.07 838.2L834.23 837.95L834.39 837.7L834.55 837.45L834.72 837.2L834.89 836.95L835.06 836.7L835.25 836.45L835.44 836.2L835.63 835.95L835.83 835.7L836.04 835.45L836.25 835.2L836.48 834.95L836.71 834.7L836.95 834.45L837.14 834.2L837.32 833.95L837.51 833.7L837.71 833.45L837.92 833.2L838.14 832.95L838.37 832.7L838.62 832.45L838.88 832.2L839.17 831.95L839.47 831.7L839.8 831.45L840.17 831.2L840.4 831.05L840.68 830.89L840.95 830.73L841.23 830.57L841.51 830.43L841.78 830.29L842.06 830.15L842.34 830.02L842.61 829.89L842.89 829.77L843.17 829.66L843.44 829.55L843.72 829.45L844 829.35L844.27 829.26L844.55 829.17L844.83 829.09L845.1 829.02L845.38 828.95L845.66 828.89L845.93 828.83L846.21 828.77L846.49 828.73L846.76 828.69L847.04 828.65L847.32 828.62L847.59 828.59L847.87 828.57L848.15 828.56L848.42 828.55L848.7 828.55L849.7 828.58L850.7 828.67L851.7 828.83L852.7 829.05L853.7 829.33L854.7 829.67L855.7 830.08L856.7 830.55L856.7 831.55L856.7 901.25"/><path d="M861 980.45L861.05 980.45L861.12 976.45L861.18 974.45L861.25 972.45L861.32 970.45L861.4 968.45L861.47 966.45L861.55 964.45L861.63 962.45L861.72 960.45L861.8 958.45L861.89 956.45L861.97 954.45L862.06 952.45L862.15 950.45L862.25 948.45L862.34 946.45L862.43 944.45L862.53 942.45L862.63 940.45L862.73 938.45L862.83 936.45L862.93 934.45L863.04 932.45L863.15 930.45L863.26 928.45L863.37 926.45L863.48 924.45L863.6 922.45L863.71 920.45L863.83 918.45L863.96 916.45L864.08 914.45L864.21 912.45L864.34 910.45L864.47 908.45L864.61 906.45L864.75 904.45L864.89 902.45L865.04 900.45L865.19 898.45L865.34 896.45L865.5 894.45L865.66 892.45L865.83 890.45L866 888.45L866.17 886.45L866.35 884.45L866.54 882.45L866.73 880.45L866.83 879.45L866.93 878.45L867.04 877.45L867.14 876.45L867.25 875.45L867.35 874.45L867.46 873.45L867.57 872.45L867.69 871.45L867.8 870.45L867.92 869.45L868.04 868.45L868.17 867.45L868.29 866.45L868.42 865.45L868.55 864.45L868.69 863.45L868.83 862.45L868.97 861.45L869.11 860.45L869.26 859.45L869.41 858.45L869.57 857.45L869.73 856.45L869.89 855.45L870.06 854.45L870.24 853.45L870.42 852.45L870.61 851.45L870.8 850.45L871 849.45L871.2 848.45L871.42 847.45L871.64 846.45L871.87 845.45L872.11 844.45L872.37 843.45L872.63 842.45L872.91 841.45L873.2 840.45L873.5 839.45L873.83 838.45L874.17 837.45L874.54 836.45L874.63 836.2L874.73 835.95L874.83 835.7L874.93 835.45L875.03 835.2L875.13 834.95L875.24 834.7L875.35 834.45L875.46 834.2L875.57 833.95L875.69 833.7L875.8 833.45L875.92 833.2L876.04 832.95L876.17 832.7L876.3 832.45L876.43 832.2L876.56 831.95L876.7 831.7L876.84 831.45L876.99 831.2L877.14 830.95L877.29 830.7L877.45 830.45L877.61 830.2L877.78 829.95L877.95 829.7L878.12 829.45L878.31 829.2L878.5 828.95L878.7 828.7L878.9 828.45L879.11 828.2L879.33 827.95L879.52 827.7L879.71 827.45L879.9 827.2L880.11 826.95L880.32 826.7L880.55 826.45L880.79 826.2L881.05 825.95L881.32 825.7L881.61 825.45L881.92 825.2L882.26 824.95L882.63 824.7L883.04 824.45L883.49 824.2L883.99 823.95L884.31 823.8L884.58 823.69L884.85 823.57L885.12 823.47L885.39 823.36L885.66 823.27L885.93 823.17L886.2 823.08L886.47 822.99L886.74 822.91L887.01 822.83L887.28 822.75L887.55 822.68L887.82 822.61L888.09 822.55L888.36 822.49L888.63 822.43L888.9 822.38L889.17 822.33L889.44 822.29L889.7 822.24L889.97 822.21L890.24 822.17L890.51 822.15L890.78 822.12L891.05 822.1L891.32 822.08L891.59 822.07L891.86 822.06L892.13 822.05L892.4 822.05L893.4 822.08L894.4 822.17L895.4 822.33L896.4 822.55L897.4 822.83L898.4 823.17L899.4 823.58L900.4 824.05L900.4 825.05L900.4 892.75"/><path d="M905 976.05L905.1 976.05L905.16 974.05L905.21 972.05L905.28 970.05L905.35 968.05L905.43 966.05L905.5 964.05L905.58 962.05L905.65 960.05L905.73 958.05L905.81 956.05L905.89 954.05L905.97 952.05L906.05 950.05L906.13 948.05L906.22 946.05L906.3 944.05L906.39 942.05L906.47 940.05L906.56 938.05L906.65 936.05L906.74 934.05L906.84 932.05L906.93 930.05L907.02 928.05L907.12 926.05L907.22 924.05L907.32 922.05L907.42 920.05L907.53 918.05L907.63 916.05L907.74 914.05L907.85 912.05L907.96 910.05L908.08 908.05L908.19 906.05L908.31 904.05L908.44 902.05L908.56 900.05L908.69 898.05L908.82 896.05L908.95 894.05L909.09 892.05L909.23 890.05L909.37 888.05L909.52 886.05L909.68 884.05L909.83 882.05L909.99 880.05L910.16 878.05L910.33 876.05L910.42 875.05L910.51 874.05L910.6 873.05L910.69 872.05L910.79 871.05L910.88 870.05L910.98 869.05L911.08 868.05L911.18 867.05L911.29 866.05L911.39 865.05L911.5 864.05L911.61 863.05L911.72 862.05L911.84 861.05L911.95 860.05L912.07 859.05L912.2 858.05L912.32 857.05L912.45 856.05L912.58 855.05L912.72 854.05L912.86 853.05L913 852.05L913.15 851.05L913.3 850.05L913.45 849.05L913.62 848.05L913.78 847.05L913.95 846.05L914.13 845.05L914.31 844.05L914.5 843.05L914.7 842.05L914.91 841.05L915.12 840.05L915.35 839.05L915.58 838.05L915.82 837.05L916.08 836.05L916.35 835.05L916.64 834.05L916.95 833.05L917.27 832.05L917.35 831.8L917.44 831.55L917.53 831.3L917.62 831.05L917.71 830.8L917.8 830.55L917.89 830.3L917.99 830.05L918.08 829.8L918.18 829.55L918.29 829.3L918.39 829.05L918.49 828.8L918.6 828.55L918.71 828.3L918.83 828.05L918.94 827.8L919.06 827.55L919.18 827.3L919.3 827.05L919.43 826.8L919.56 826.55L919.7 826.3L919.83 826.05L919.98 825.8L920.12 825.55L920.27 825.3L920.43 825.05L920.59 824.8L920.75 824.55L920.92 824.3L921.1 824.05L921.29 823.8L921.48 823.55L921.68 823.3L921.87 823.05L922.06 822.8L922.26 822.55L922.47 822.3L922.68 822.05L922.92 821.8L923.16 821.55L923.42 821.3L923.69 821.05L923.99 820.8L924.31 820.55L924.65 820.3L925.02 820.05L925.43 819.8L925.89 819.55L926.37 819.3L926.92 819.05L927.56 818.8L928.15 818.6L928.42 818.52L928.7 818.44L928.97 818.36L929.25 818.29L929.52 818.22L929.8 818.15L930.07 818.08L930.35 818.02L930.62 817.96L930.9 817.91L931.17 817.85L931.45 817.8L931.72 817.75L932 817.71L932.27 817.66L932.55 817.62L932.82 817.58L933.1 817.55L933.37 817.52L933.65 817.49L933.92 817.46L934.2 817.44L934.47 817.42L934.75 817.4L935.02 817.38L935.3 817.37L935.57 817.36L935.85 817.36L936.12 817.35L936.4 817.35L937.4 817.38L938.4 817.47L939.4 817.63L940.4 817.85L941.4 818.13L942.4 818.47L943.4 818.88L944.4 819.35L944.4 820.35L944.4 884.75"/><path d="M948.3 971.55L948.3 971.55L948.52 969.55L948.6 967.55L948.68 965.55L948.76 963.55L948.83 961.55L948.91 959.55L948.98 957.55L949.06 955.55L949.13 953.55L949.2 951.55L949.28 949.55L949.35 947.55L949.43 945.55L949.5 943.55L949.58 941.55L949.66 939.55L949.74 937.55L949.82 935.55L949.9 933.55L949.98 931.55L950.06 929.55L950.14 927.55L950.23 925.55L950.31 923.55L950.4 921.55L950.49 919.55L950.58 917.55L950.67 915.55L950.76 913.55L950.85 911.55L950.95 909.55L951.05 907.55L951.15 905.55L951.25 903.55L951.35 901.55L951.46 899.55L951.57 897.55L951.68 895.55L951.79 893.55L951.9 891.55L952.02 889.55L952.14 887.55L952.27 885.55L952.39 883.55L952.52 881.55L952.66 879.55L952.8 877.55L952.94 875.55L953.09 873.55L953.24 871.55L953.31 870.55L953.39 869.55L953.47 868.55L953.55 867.55L953.64 866.55L953.72 865.55L953.81 864.55L953.9 863.55L953.98 862.55L954.08 861.55L954.17 860.55L954.26 859.55L954.36 858.55L954.46 857.55L954.56 856.55L954.66 855.55L954.77 854.55L954.88 853.55L954.99 852.55L955.1 851.55L955.21 850.55L955.33 849.55L955.46 848.55L955.58 847.55L955.71 846.55L955.84 845.55L955.98 844.55L956.12 843.55L956.27 842.55L956.42 841.55L956.57 840.55L956.73 839.55L956.9 838.55L957.08 837.55L957.26 836.55L957.44 835.55L957.64 834.55L957.85 833.55L958.06 832.55L958.29 831.55L958.53 830.55L958.78 829.55L959.04 828.55L959.33 827.55L959.63 826.55L959.71 826.3L959.79 826.05L959.87 825.8L959.95 825.55L960.04 825.3L960.13 825.05L960.21 824.8L960.31 824.55L960.4 824.3L960.49 824.05L960.59 823.8L960.69 823.55L960.79 823.3L960.89 823.05L960.99 822.8L961.1 822.55L961.21 822.3L961.33 822.05L961.44 821.8L961.56 821.55L961.69 821.3L961.81 821.05L961.94 820.8L962.08 820.55L962.21 820.3L962.36 820.05L962.51 819.8L962.66 819.55L962.82 819.3L962.98 819.05L963.15 818.8L963.33 818.55L963.51 818.3L963.71 818.05L963.91 817.8L964.12 817.55L964.34 817.3L964.58 817.05L964.83 816.8L965.09 816.55L965.37 816.3L965.67 816.05L965.99 815.8L966.33 815.55L966.71 815.3L967.12 815.05L967.58 814.8L968.06 814.55L968.59 814.3L969.21 814.05L969.94 813.8L970.83 813.55L971.12 813.48L971.41 813.42L971.7 813.36L971.99 813.3L972.28 813.24L972.56 813.19L972.85 813.14L973.14 813.09L973.43 813.04L973.72 812.99L974.01 812.95L974.3 812.91L974.59 812.87L974.88 812.83L975.17 812.8L975.45 812.77L975.74 812.74L976.03 812.71L976.32 812.68L976.61 812.66L976.9 812.64L977.19 812.62L977.48 812.6L977.77 812.59L978.06 812.58L978.34 812.57L978.63 812.56L978.92 812.55L979.21 812.55L979.5 812.55L980.5 812.58L981.5 812.67L982.5 812.83L983.5 813.05L984.5 813.33L985.5 813.67L986.5 814.08L987.5 814.55L987.5 815.55L987.5 879.55"/><path d="M991.3 967.35L991.49 967.35L991.65 965.35L991.73 963.35L991.81 961.35L991.89 959.35L991.96 957.35L992.03 955.35L992.11 953.35L992.18 951.35L992.25 949.35L992.32 947.35L992.4 945.35L992.47 943.35L992.55 941.35L992.62 939.35L992.7 937.35L992.77 935.35L992.85 933.35L992.93 931.35L993.01 929.35L993.09 927.35L993.17 925.35L993.25 923.35L993.34 921.35L993.42 919.35L993.51 917.35L993.59 915.35L993.68 913.35L993.77 911.35L993.86 909.35L993.96 907.35L994.05 905.35L994.15 903.35L994.25 901.35L994.35 899.35L994.45 897.35L994.56 895.35L994.67 893.35L994.78 891.35L994.89 889.35L995 887.35L995.12 885.35L995.24 883.35L995.37 881.35L995.49 879.35L995.62 877.35L995.76 875.35L995.9 873.35L996.04 871.35L996.19 869.35L996.34 867.35L996.42 866.35L996.49 865.35L996.57 864.35L996.66 863.35L996.74 862.35L996.82 861.35L996.91 860.35L997 859.35L997.09 858.35L997.18 857.35L997.27 856.35L997.37 855.35L997.47 854.35L997.57 853.35L997.67 852.35L997.77 851.35L997.88 850.35L997.99 849.35L998.1 848.35L998.21 847.35L998.33 846.35L998.45 845.35L998.58 844.35L998.7 843.35L998.84 842.35L998.97 841.35L999.11 840.35L999.25 839.35L999.4 838.35L999.55 837.35L999.71 836.35L999.88 835.35L1000.05 834.35L1000.22 833.35L1000.41 832.35L1000.6 831.35L1000.8 830.35L1001.01 829.35L1001.23 828.35L1001.46 827.35L1001.7 826.35L1001.96 825.35L1002.23 824.35L1002.52 823.35L1002.83 822.35L1002.91 822.1L1003 821.85L1003.08 821.6L1003.16 821.35L1003.25 821.1L1003.34 820.85L1003.43 820.6L1003.52 820.35L1003.62 820.1L1003.71 819.85L1003.81 819.6L1003.91 819.35L1004.01 819.1L1004.12 818.85L1004.23 818.6L1004.34 818.35L1004.45 818.1L1004.56 817.85L1004.68 817.6L1004.8 817.35L1004.93 817.1L1005.06 816.85L1005.19 816.6L1005.33 816.35L1005.47 816.1L1005.61 815.85L1005.76 815.6L1005.92 815.35L1006.08 815.1L1006.24 814.85L1006.41 814.6L1006.59 814.35L1006.78 814.1L1006.97 813.85L1007.17 813.6L1007.38 813.35L1007.6 813.1L1007.83 812.85L1008.08 812.6L1008.33 812.35L1008.61 812.1L1008.9 811.85L1009.2 811.6L1009.47 811.35L1009.76 811.1L1010.07 810.85L1010.4 810.6L1010.77 810.35L1011.17 810.1L1011.61 809.85L1012.08 809.6L1012.6 809.35L1013.2 809.1L1013.9 808.85L1014.06 808.8L1014.32 808.72L1014.58 808.64L1014.85 808.56L1015.11 808.49L1015.37 808.42L1015.63 808.35L1015.9 808.28L1016.16 808.22L1016.42 808.16L1016.68 808.11L1016.95 808.05L1017.21 808L1017.47 807.95L1017.73 807.91L1018 807.86L1018.26 807.82L1018.52 807.78L1018.78 807.75L1019.05 807.72L1019.31 807.69L1019.57 807.66L1019.83 807.64L1020.1 807.62L1020.36 807.6L1020.62 807.58L1020.88 807.57L1021.15 807.56L1021.41 807.56L1021.67 807.55L1021.93 807.55L1022.92 807.58L1023.9 807.67L1024.88 807.83L1025.87 808.05L1026.85 808.33L1027.83 808.67L1028.82 809.08L1029.8 809.55L1029.8 810.55L1029.8 872.75"/><path d="M1034.5 963.25L1034.86 963.25L1034.98 961.25L1035.06 959.25L1035.14 957.25L1035.21 955.25L1035.28 953.25L1035.35 951.25L1035.43 949.25L1035.5 947.25L1035.57 945.25L1035.64 943.25L1035.71 941.25L1035.79 939.25L1035.86 937.25L1035.93 935.25L1036.01 933.25L1036.08 931.25L1036.16 929.25L1036.24 927.25L1036.32 925.25L1036.4 923.25L1036.48 921.25L1036.56 919.25L1036.64 917.25L1036.72 915.25L1036.81 913.25L1036.9 911.25L1036.98 909.25L1037.07 907.25L1037.16 905.25L1037.26 903.25L1037.35 901.25L1037.45 899.25L1037.55 897.25L1037.65 895.25L1037.75 893.25L1037.85 891.25L1037.96 889.25L1038.07 887.25L1038.18 885.25L1038.3 883.25L1038.41 881.25L1038.53 879.25L1038.66 877.25L1038.78 875.25L1038.91 873.25L1039.05 871.25L1039.19 869.25L1039.33 867.25L1039.48 865.25L1039.63 863.25L1039.79 861.25L1039.87 860.25L1039.95 859.25L1040.03 858.25L1040.12 857.25L1040.2 856.25L1040.29 855.25L1040.38 854.25L1040.48 853.25L1040.57 852.25L1040.66 851.25L1040.76 850.25L1040.86 849.25L1040.97 848.25L1041.07 847.25L1041.18 846.25L1041.29 845.25L1041.4 844.25L1041.52 843.25L1041.63 842.25L1041.76 841.25L1041.88 840.25L1042.01 839.25L1042.14 838.25L1042.28 837.25L1042.42 836.25L1042.56 835.25L1042.71 834.25L1042.87 833.25L1043.03 832.25L1043.19 831.25L1043.36 830.25L1043.54 829.25L1043.73 828.25L1043.92 827.25L1044.13 826.25L1044.34 825.25L1044.56 824.25L1044.79 823.25L1045.04 822.25L1045.3 821.25L1045.57 820.25L1045.87 819.25L1046.18 818.25L1046.51 817.25L1046.6 817L1046.69 816.75L1046.78 816.5L1046.87 816.25L1046.97 816L1047.06 815.75L1047.16 815.5L1047.26 815.25L1047.37 815L1047.47 814.75L1047.58 814.5L1047.69 814.25L1047.8 814L1047.92 813.75L1048.03 813.5L1048.16 813.25L1048.28 813L1048.41 812.75L1048.54 812.5L1048.67 812.25L1048.81 812L1048.95 811.75L1049.1 811.5L1049.25 811.25L1049.41 811L1049.57 810.75L1049.74 810.5L1049.91 810.25L1050.09 810L1050.28 809.75L1050.48 809.5L1050.68 809.25L1050.89 809L1051.11 808.75L1051.34 808.5L1051.58 808.25L1051.84 808L1052.11 807.75L1052.39 807.5L1052.69 807.25L1052.95 807.05L1053.35 806.75L1053.75 806.47L1054.15 806.19L1054.55 805.93L1054.95 805.67L1055.35 805.43L1055.75 805.19L1056.15 804.97L1056.55 804.75L1056.95 804.55L1057.35 804.35L1057.75 804.17L1058.16 804L1058.56 803.83L1058.96 803.67L1059.36 803.53L1059.76 803.39L1060.16 803.27L1060.56 803.15L1060.96 803.05L1061.36 802.95L1061.76 802.87L1062.16 802.79L1062.56 802.73L1062.96 802.67L1063.36 802.63L1063.76 802.59L1064.17 802.57L1064.57 802.55L1064.97 802.55L1065.93 802.58L1066.9 802.67L1067.87 802.83L1068.83 803.05L1069.8 803.33L1070.77 803.67L1071.73 804.08L1072.7 804.55L1072.7 805.55L1072.7 865.75"/><path d="M1076.3 958.85L1076.79 958.85L1076.88 954.85L1077 952.85L1077.07 950.85L1077.15 948.85L1077.22 946.85L1077.29 944.85L1077.36 942.85L1077.43 940.85L1077.5 938.85L1077.57 936.85L1077.64 934.85L1077.71 932.85L1077.79 930.85L1077.86 928.85L1077.93 926.85L1078.01 924.85L1078.08 922.85L1078.16 920.85L1078.24 918.85L1078.32 916.85L1078.4 914.85L1078.48 912.85L1078.56 910.85L1078.64 908.85L1078.73 906.85L1078.81 904.85L1078.9 902.85L1078.99 900.85L1079.08 898.85L1079.17 896.85L1079.27 894.85L1079.36 892.85L1079.46 890.85L1079.56 888.85L1079.66 886.85L1079.76 884.85L1079.87 882.85L1079.98 880.85L1080.09 878.85L1080.21 876.85L1080.32 874.85L1080.44 872.85L1080.57 870.85L1080.7 868.85L1080.83 866.85L1080.96 864.85L1081.1 862.85L1081.24 860.85L1081.39 858.85L1081.54 856.85L1081.7 854.85L1081.78 853.85L1081.86 852.85L1081.95 851.85L1082.03 850.85L1082.12 849.85L1082.21 848.85L1082.3 847.85L1082.4 846.85L1082.49 845.85L1082.59 844.85L1082.69 843.85L1082.79 842.85L1082.89 841.85L1083 840.85L1083.1 839.85L1083.22 838.85L1083.33 837.85L1083.45 836.85L1083.57 835.85L1083.69 834.85L1083.82 833.85L1083.95 832.85L1084.08 831.85L1084.22 830.85L1084.36 829.85L1084.51 828.85L1084.66 827.85L1084.82 826.85L1084.98 825.85L1085.15 824.85L1085.33 823.85L1085.51 822.85L1085.7 821.85L1085.9 820.85L1086.1 819.85L1086.32 818.85L1086.55 817.85L1086.79 816.85L1087.04 815.85L1087.3 814.85L1087.58 813.85L1087.88 812.85L1088.2 811.85L1088.54 810.85L1088.91 809.85L1089.01 809.6L1089.11 809.35L1089.21 809.1L1089.31 808.85L1089.42 808.6L1089.52 808.35L1089.63 808.1L1089.74 807.85L1089.86 807.6L1089.98 807.35L1090.1 807.1L1090.22 806.85L1090.35 806.6L1090.48 806.35L1090.61 806.1L1090.75 805.85L1090.89 805.6L1091.03 805.35L1091.18 805.1L1091.34 804.85L1091.49 804.6L1091.66 804.35L1091.83 804.1L1092 803.85L1092.18 803.6L1092.37 803.35L1092.57 803.1L1092.77 802.85L1092.98 802.6L1093.2 802.35L1093.43 802.1L1093.67 801.85L1093.93 801.6L1093.98 801.55L1094.4 801.16L1094.82 800.78L1095.24 800.41L1095.66 800.06L1096.08 799.72L1096.5 799.39L1096.92 799.08L1097.34 798.78L1097.76 798.49L1098.18 798.22L1098.61 797.96L1099.03 797.71L1099.45 797.48L1099.87 797.26L1100.29 797.05L1100.71 796.86L1101.13 796.68L1101.55 796.51L1101.97 796.36L1102.39 796.22L1102.81 796.09L1103.23 795.98L1103.65 795.88L1104.08 795.79L1104.5 795.72L1104.92 795.66L1105.34 795.61L1105.76 795.58L1106.18 795.56L1106.6 795.55L1107.55 795.58L1108.5 795.67L1109.45 795.83L1110.4 796.05L1111.35 796.33L1112.3 796.67L1113.25 797.08L1114.2 797.55L1114.2 798.55L1114.2 858.25"/><path d="M1118.3 954.35L1118.89 954.35L1118.94 952.35L1119 950.35L1119.05 948.35L1119.15 946.35L1119.22 944.35L1119.29 942.35L1119.36 940.35L1119.42 938.35L1119.49 936.35L1119.56 934.35L1119.63 932.35L1119.7 930.35L1119.77 928.35L1119.84 926.35L1119.92 924.35L1119.99 922.35L1120.06 920.35L1120.14 918.35L1120.21 916.35L1120.29 914.35L1120.36 912.35L1120.44 910.35L1120.52 908.35L1120.6 906.35L1120.68 904.35L1120.76 902.35L1120.85 900.35L1120.93 898.35L1121.02 896.35L1121.11 894.35L1121.2 892.35L1121.29 890.35L1121.38 888.35L1121.48 886.35L1121.58 884.35L1121.68 882.35L1121.78 880.35L1121.88 878.35L1121.99 876.35L1122.1 874.35L1122.21 872.35L1122.32 870.35L1122.44 868.35L1122.56 866.35L1122.68 864.35L1122.81 862.35L1122.94 860.35L1123.08 858.35L1123.22 856.35L1123.36 854.35L1123.51 852.35L1123.66 850.35L1123.82 848.35L1123.9 847.35L1123.99 846.35L1124.07 845.35L1124.16 844.35L1124.25 843.35L1124.34 842.35L1124.43 841.35L1124.52 840.35L1124.62 839.35L1124.72 838.35L1124.82 837.35L1124.92 836.35L1125.02 835.35L1125.13 834.35L1125.24 833.35L1125.35 832.35L1125.47 831.35L1125.59 830.35L1125.71 829.35L1125.84 828.35L1125.96 827.35L1126.1 826.35L1126.23 825.35L1126.37 824.35L1126.52 823.35L1126.67 822.35L1126.82 821.35L1126.98 820.35L1127.15 819.35L1127.32 818.35L1127.5 817.35L1127.69 816.35L1127.88 815.35L1128.08 814.35L1128.3 813.35L1128.52 812.35L1128.75 811.35L1128.99 810.35L1129.25 809.35L1129.52 808.35L1129.81 807.35L1130.12 806.35L1130.44 805.35L1130.79 804.35L1131.17 803.35L1131.27 803.1L1131.37 802.85L1131.47 802.6L1131.58 802.35L1131.69 802.1L1131.8 801.85L1131.91 801.6L1132.02 801.35L1132.14 801.1L1132.26 800.85L1132.38 800.6L1132.51 800.35L1132.64 800.1L1132.77 799.85L1132.91 799.6L1133.05 799.35L1133.19 799.1L1133.34 798.85L1133.49 798.6L1133.65 798.35L1133.81 798.1L1133.97 797.85L1134.15 797.6L1134.32 797.35L1134.51 797.1L1134.7 796.85L1135.17 796.26L1135.6 795.74L1136.04 795.23L1136.47 794.75L1136.9 794.28L1137.34 793.83L1137.77 793.4L1138.2 792.99L1138.64 792.59L1139.07 792.22L1139.5 791.86L1139.94 791.52L1140.37 791.2L1140.8 790.9L1141.24 790.61L1141.67 790.35L1142.1 790.1L1142.54 789.87L1142.97 789.66L1143.4 789.47L1143.83 789.29L1144.27 789.14L1144.7 789L1145.13 788.88L1145.57 788.78L1146 788.7L1146.43 788.63L1146.87 788.59L1147.3 788.56L1147.73 788.55L1148.67 788.58L1149.6 788.67L1150.53 788.83L1151.47 789.05L1152.4 789.33L1153.33 789.67L1154.27 790.08L1155.2 790.55L1155.2 791.55L1155.2 852.75"/><path d="M1159.5 950.45L1159.5 950.45L1160.19 948.45L1160.26 946.45L1160.33 944.45L1160.4 942.45L1160.47 940.45L1160.54 938.45L1160.6 936.45L1160.67 934.45L1160.74 932.45L1160.81 930.45L1160.87 928.45L1160.94 926.45L1161.01 924.45L1161.08 922.45L1161.15 920.45L1161.22 918.45L1161.29 916.45L1161.36 914.45L1161.44 912.45L1161.51 910.45L1161.59 908.45L1161.66 906.45L1161.74 904.45L1161.82 902.45L1161.89 900.45L1161.97 898.45L1162.06 896.45L1162.14 894.45L1162.22 892.45L1162.31 890.45L1162.4 888.45L1162.49 886.45L1162.58 884.45L1162.67 882.45L1162.76 880.45L1162.86 878.45L1162.96 876.45L1163.06 874.45L1163.16 872.45L1163.27 870.45L1163.37 868.45L1163.48 866.45L1163.6 864.45L1163.71 862.45L1163.83 860.45L1163.96 858.45L1164.08 856.45L1164.21 854.45L1164.35 852.45L1164.49 850.45L1164.63 848.45L1164.78 846.45L1164.93 844.45L1165.09 842.45L1165.25 840.45L1165.33 839.45L1165.42 838.45L1165.51 837.45L1165.6 836.45L1165.69 835.45L1165.78 834.45L1165.88 833.45L1165.98 832.45L1166.08 831.45L1166.18 830.45L1166.28 829.45L1166.39 828.45L1166.5 827.45L1166.61 826.45L1166.72 825.45L1166.84 824.45L1166.96 823.45L1167.09 822.45L1167.22 821.45L1167.35 820.45L1167.48 819.45L1167.62 818.45L1167.77 817.45L1167.92 816.45L1168.07 815.45L1168.23 814.45L1168.39 813.45L1168.57 812.45L1168.74 811.45L1168.93 810.45L1169.12 809.45L1169.32 808.45L1169.53 807.45L1169.75 806.45L1169.98 805.45L1170.22 804.45L1170.47 803.45L1170.74 802.45L1171.02 801.45L1171.32 800.45L1171.64 799.45L1171.98 798.45L1172.34 797.45L1172.74 796.45L1173.16 795.45L1173.27 795.2L1173.39 794.95L1173.5 794.7L1173.62 794.45L1173.75 794.2L1173.87 793.95L1174 793.7L1174.13 793.45L1174.27 793.2L1174.41 792.95L1174.55 792.7L1174.7 792.45L1174.85 792.2L1175 791.95L1175.16 791.7L1175.33 791.45L1175.5 791.2L1175.67 790.95L1175.85 790.7L1176.31 790.09L1176.76 789.51L1177.22 788.94L1177.68 788.4L1178.14 787.87L1178.59 787.37L1179.05 786.89L1179.51 786.42L1179.97 785.98L1180.42 785.56L1180.88 785.16L1181.34 784.78L1181.79 784.42L1182.25 784.08L1182.71 783.76L1183.17 783.46L1183.62 783.19L1184.08 782.93L1184.54 782.69L1184.99 782.48L1185.45 782.28L1185.91 782.11L1186.37 781.95L1186.82 781.82L1187.28 781.71L1187.74 781.61L1188.2 781.54L1188.65 781.49L1189.11 781.46L1189.57 781.45L1190.48 781.48L1191.4 781.57L1192.32 781.73L1193.23 781.95L1194.15 782.23L1195.07 782.57L1195.98 782.98L1196.9 783.45L1196.9 784.45L1196.9 847"/><path d="M1200.5 946.35L1200.52 946.35L1201.07 940.35L1201.14 938.35L1201.2 936.35L1201.26 934.35L1201.32 932.35L1201.38 930.35L1201.44 928.35L1201.5 926.35L1201.56 924.35L1201.62 922.35L1201.68 920.35L1201.75 918.35L1201.81 916.35L1201.87 914.35L1201.94 912.35L1202 910.35L1202.07 908.35L1202.14 906.35L1202.21 904.35L1202.28 902.35L1202.35 900.35L1202.42 898.35L1202.49 896.35L1202.57 894.35L1202.64 892.35L1202.72 890.35L1202.8 888.35L1202.88 886.35L1202.96 884.35L1203.04 882.35L1203.13 880.35L1203.21 878.35L1203.3 876.35L1203.39 874.35L1203.48 872.35L1203.58 870.35L1203.67 868.35L1203.77 866.35L1203.87 864.35L1203.97 862.35L1204.08 860.35L1204.19 858.35L1204.3 856.35L1204.41 854.35L1204.53 852.35L1204.65 850.35L1204.78 848.35L1204.91 846.35L1205.04 844.35L1205.18 842.35L1205.32 840.35L1205.46 838.35L1205.61 836.35L1205.77 834.35L1205.93 832.35L1206.02 831.35L1206.1 830.35L1206.19 829.35L1206.28 828.35L1206.37 827.35L1206.46 826.35L1206.56 825.35L1206.66 824.35L1206.76 823.35L1206.86 822.35L1206.96 821.35L1207.07 820.35L1207.18 819.35L1207.29 818.35L1207.4 817.35L1207.52 816.35L1207.64 815.35L1207.77 814.35L1207.9 813.35L1208.03 812.35L1208.16 811.35L1208.3 810.35L1208.45 809.35L1208.6 808.35L1208.75 807.35L1208.91 806.35L1209.08 805.35L1209.25 804.35L1209.43 803.35L1209.61 802.35L1209.8 801.35L1210.01 800.35L1210.22 799.35L1210.44 798.35L1210.67 797.35L1210.91 796.35L1211.16 795.35L1211.43 794.35L1211.72 793.35L1212.02 792.35L1212.34 791.35L1212.69 790.35L1213.05 789.35L1213.45 788.35L1213.56 788.1L1213.66 787.85L1213.77 787.6L1213.89 787.35L1214 787.1L1214.12 786.85L1214.23 786.6L1214.36 786.35L1214.48 786.1L1214.61 785.85L1214.74 785.6L1214.87 785.35L1215.01 785.1L1215.15 784.85L1215.3 784.6L1215.45 784.35L1215.6 784.1L1215.76 783.85L1215.92 783.6L1216.09 783.35L1216.27 783.1L1216.44 782.85L1216.63 782.6L1216.82 782.35L1217.02 782.1L1217.51 781.51L1217.96 780.99L1218.4 780.48L1218.85 780L1219.3 779.53L1219.75 779.08L1220.2 778.65L1220.64 778.24L1221.09 777.84L1221.54 777.47L1221.99 777.11L1222.44 776.77L1222.88 776.45L1223.33 776.15L1223.78 775.86L1224.23 775.6L1224.68 775.35L1225.12 775.12L1225.57 774.91L1226.02 774.72L1226.47 774.54L1226.92 774.39L1227.36 774.25L1227.81 774.13L1228.26 774.03L1228.71 773.95L1229.16 773.88L1229.6 773.84L1230.05 773.81L1230.5 773.8L1231.4 773.83L1232.3 773.92L1233.2 774.08L1234.1 774.3L1235 774.58L1235.9 774.92L1236.8 775.33L1237.7 775.8L1237.7 776.8L1237.7 839.5"/><path d="M1241.3 942.35L1241.32 942.35L1241.37 934.35L1241.75 932.35L1241.8 930.35L1241.86 928.35L1241.91 926.35L1241.96 924.35L1242.01 922.35L1242.07 920.35L1242.12 918.35L1242.18 916.35L1242.23 914.35L1242.29 912.35L1242.35 910.35L1242.41 908.35L1242.47 906.35L1242.53 904.35L1242.59 902.35L1242.65 900.35L1242.71 898.35L1242.78 896.35L1242.84 894.35L1242.91 892.35L1242.98 890.35L1243.05 888.35L1243.12 886.35L1243.19 884.35L1243.27 882.35L1243.34 880.35L1243.42 878.35L1243.5 876.35L1243.57 874.35L1243.66 872.35L1243.74 870.35L1243.83 868.35L1243.91 866.35L1244 864.35L1244.09 862.35L1244.19 860.35L1244.28 858.35L1244.38 856.35L1244.48 854.35L1244.59 852.35L1244.69 850.35L1244.8 848.35L1244.92 846.35L1245.03 844.35L1245.15 842.35L1245.27 840.35L1245.4 838.35L1245.53 836.35L1245.67 834.35L1245.81 832.35L1245.95 830.35L1246.1 828.35L1246.26 826.35L1246.42 824.35L1246.51 823.35L1246.59 822.35L1246.68 821.35L1246.77 820.35L1246.86 819.35L1246.95 818.35L1247.04 817.35L1247.14 816.35L1247.24 815.35L1247.34 814.35L1247.45 813.35L1247.55 812.35L1247.66 811.35L1247.77 810.35L1247.89 809.35L1248.01 808.35L1248.13 807.35L1248.25 806.35L1248.38 805.35L1248.51 804.35L1248.65 803.35L1248.79 802.35L1248.94 801.35L1249.09 800.35L1249.24 799.35L1249.4 798.35L1249.57 797.35L1249.74 796.35L1249.92 795.35L1250.11 794.35L1250.3 793.35L1250.5 792.35L1250.71 791.35L1250.94 790.35L1251.17 789.35L1251.41 788.35L1251.67 787.35L1251.94 786.35L1252.23 785.35L1252.54 784.35L1252.86 783.35L1253.21 782.35L1253.59 781.35L1253.99 780.35L1254.1 780.1L1254.21 779.85L1254.32 779.6L1254.43 779.35L1254.55 779.1L1254.66 778.85L1254.79 778.6L1254.91 778.35L1255.04 778.1L1255.17 777.85L1255.3 777.6L1255.44 777.35L1255.58 777.1L1255.73 776.85L1255.88 776.6L1256.03 776.35L1256.19 776.1L1256.35 775.85L1256.52 775.6L1256.69 775.35L1256.87 775.1L1257.05 774.85L1257.24 774.6L1257.44 774.35L1257.65 774.1L1258.13 773.54L1258.57 773.05L1259 772.58L1259.44 772.12L1259.88 771.68L1260.32 771.26L1260.76 770.86L1261.19 770.47L1261.63 770.1L1262.07 769.74L1262.51 769.41L1262.95 769.09L1263.39 768.79L1263.82 768.5L1264.26 768.24L1264.7 767.99L1265.14 767.76L1265.58 767.54L1266.01 767.34L1266.45 767.16L1266.89 767L1267.33 766.85L1267.77 766.72L1268.2 766.61L1268.64 766.52L1269.08 766.44L1269.52 766.38L1269.96 766.33L1270.4 766.31L1270.83 766.3L1271.72 766.33L1272.6 766.42L1273.48 766.58L1274.37 766.8L1275.25 767.08L1276.13 767.42L1277.02 767.83L1277.9 768.3L1277.9 769.3L1277.9 833.25"/><path d="M1281.4 937.75L1281.41 937.75L1281.48 929.75L1281.7 925.75L1281.78 921.75L1281.87 917.75L1281.96 913.75L1282.06 909.75L1282.16 905.75L1282.21 903.75L1282.26 901.75L1282.32 899.75L1282.37 897.75L1282.43 895.75L1282.49 893.75L1282.54 891.75L1282.6 889.75L1282.66 887.75L1282.73 885.75L1282.79 883.75L1282.86 881.75L1282.92 879.75L1282.99 877.75L1283.06 875.75L1283.13 873.75L1283.2 871.75L1283.28 869.75L1283.35 867.75L1283.43 865.75L1283.51 863.75L1283.59 861.75L1283.67 859.75L1283.76 857.75L1283.85 855.75L1283.94 853.75L1284.03 851.75L1284.12 849.75L1284.22 847.75L1284.32 845.75L1284.42 843.75L1284.53 841.75L1284.64 839.75L1284.75 837.75L1284.87 835.75L1284.98 833.75L1285.11 831.75L1285.23 829.75L1285.37 827.75L1285.5 825.75L1285.64 823.75L1285.79 821.75L1285.94 819.75L1286.1 817.75L1286.18 816.75L1286.26 815.75L1286.34 814.75L1286.43 813.75L1286.52 812.75L1286.61 811.75L1286.7 810.75L1286.79 809.75L1286.89 808.75L1286.99 807.75L1287.09 806.75L1287.19 805.75L1287.29 804.75L1287.4 803.75L1287.51 802.75L1287.63 801.75L1287.74 800.75L1287.86 799.75L1287.99 798.75L1288.11 797.75L1288.25 796.75L1288.38 795.75L1288.52 794.75L1288.66 793.75L1288.81 792.75L1288.97 791.75L1289.12 790.75L1289.29 789.75L1289.46 788.75L1289.64 787.75L1289.82 786.75L1290.01 785.75L1290.21 784.75L1290.42 783.75L1290.64 782.75L1290.87 781.75L1291.11 780.75L1291.37 779.75L1291.64 778.75L1291.92 777.75L1292.22 776.75L1292.55 775.75L1292.89 774.75L1293.26 773.75L1293.36 773.5L1293.45 773.25L1293.55 773L1293.66 772.75L1293.76 772.5L1293.87 772.25L1293.98 772L1294.09 771.75L1294.2 771.5L1294.32 771.25L1294.44 771L1294.56 770.75L1294.69 770.5L1294.81 770.25L1294.95 770L1295.08 769.75L1295.22 769.5L1295.36 769.25L1295.51 769L1295.66 768.75L1295.81 768.5L1295.97 768.25L1296.13 768L1296.3 767.75L1296.48 767.5L1296.66 767.25L1296.84 767L1297.04 766.75L1297.24 766.5L1297.45 766.25L1297.66 766L1297.89 765.75L1298.07 765.55L1298.5 765.11L1298.93 764.68L1299.36 764.27L1299.79 763.87L1300.22 763.49L1300.65 763.12L1301.08 762.77L1301.51 762.43L1301.94 762.11L1302.37 761.8L1302.8 761.51L1303.23 761.23L1303.66 760.97L1304.09 760.72L1304.52 760.49L1304.95 760.27L1305.38 760.07L1305.81 759.88L1306.24 759.71L1306.67 759.55L1307.1 759.41L1307.53 759.28L1307.96 759.17L1308.39 759.07L1308.82 758.99L1309.25 758.92L1309.68 758.87L1310.11 758.83L1310.54 758.81L1310.97 758.8L1311.83 758.83L1312.7 758.92L1313.57 759.08L1314.43 759.3L1315.3 759.58L1316.17 759.92L1317.03 760.33L1317.9 760.8L1317.9 761.8L1317.9 826.5"/><path d="M1322 933.45L1322 933.45L1322.07 925.45L1322.12 921.45L1322.18 917.45L1322.25 913.45L1322.32 909.45L1322.4 905.45L1322.49 901.45L1322.58 897.45L1322.67 893.45L1322.77 889.45L1322.82 887.45L1322.88 885.45L1322.93 883.45L1322.99 881.45L1323.05 879.45L1323.1 877.45L1323.16 875.45L1323.23 873.45L1323.29 871.45L1323.36 869.45L1323.42 867.45L1323.49 865.45L1323.56 863.45L1323.63 861.45L1323.71 859.45L1323.78 857.45L1323.86 855.45L1323.94 853.45L1324.02 851.45L1324.1 849.45L1324.19 847.45L1324.28 845.45L1324.37 843.45L1324.46 841.45L1324.56 839.45L1324.65 837.45L1324.76 835.45L1324.86 833.45L1324.97 831.45L1325.08 829.45L1325.19 827.45L1325.31 825.45L1325.44 823.45L1325.56 821.45L1325.69 819.45L1325.83 817.45L1325.97 815.45L1326.12 813.45L1326.27 811.45L1326.35 810.45L1326.43 809.45L1326.51 808.45L1326.59 807.45L1326.67 806.45L1326.76 805.45L1326.85 804.45L1326.94 803.45L1327.03 802.45L1327.13 801.45L1327.22 800.45L1327.32 799.45L1327.43 798.45L1327.53 797.45L1327.64 796.45L1327.75 795.45L1327.86 794.45L1327.97 793.45L1328.09 792.45L1328.22 791.45L1328.34 790.45L1328.47 789.45L1328.6 788.45L1328.74 787.45L1328.88 786.45L1329.03 785.45L1329.18 784.45L1329.34 783.45L1329.5 782.45L1329.67 781.45L1329.85 780.45L1330.03 779.45L1330.22 778.45L1330.42 777.45L1330.62 776.45L1330.84 775.45L1331.07 774.45L1331.3 773.45L1331.56 772.45L1331.82 771.45L1332.1 770.45L1332.4 769.45L1332.71 768.45L1333.05 767.45L1333.41 766.45L1333.51 766.2L1333.6 765.95L1333.7 765.7L1333.8 765.45L1333.9 765.2L1334.01 764.95L1334.12 764.7L1334.23 764.45L1334.34 764.2L1334.45 763.95L1334.57 763.7L1334.69 763.45L1334.81 763.2L1334.93 762.95L1335.06 762.7L1335.19 762.45L1335.33 762.2L1335.46 761.95L1335.61 761.7L1335.75 761.45L1335.9 761.2L1336.06 760.95L1336.22 760.7L1336.38 760.45L1336.55 760.2L1336.72 759.95L1336.9 759.7L1337.09 759.45L1337.28 759.2L1337.48 758.95L1337.69 758.7L1337.91 758.45L1338.13 758.2L1338.37 757.95L1338.61 757.7L1338.76 757.55L1339.17 757.16L1339.59 756.78L1340 756.41L1340.41 756.06L1340.82 755.72L1341.23 755.39L1341.64 755.08L1342.05 754.78L1342.46 754.49L1342.88 754.22L1343.29 753.96L1343.7 753.71L1344.11 753.48L1344.52 753.26L1344.93 753.05L1345.34 752.86L1345.75 752.68L1346.17 752.51L1346.58 752.36L1346.99 752.22L1347.4 752.09L1347.81 751.98L1348.22 751.88L1348.63 751.79L1349.04 751.72L1349.46 751.66L1349.87 751.61L1350.28 751.58L1350.69 751.56L1351.1 751.55L1351.95 751.58L1352.8 751.67L1353.65 751.83L1354.5 752.05L1355.35 752.33L1356.2 752.67L1357.05 753.08L1357.9 753.55L1357.9 754.55L1357.9 820.25"/><path d="M1361.4 929.35L1361.41 929.35L1361.47 919.35L1361.55 913.35L1361.61 909.35L1361.68 905.35L1361.75 901.35L1361.83 897.35L1361.91 893.35L1362 889.35L1362.09 885.35L1362.19 881.35L1362.24 879.35L1362.3 877.35L1362.35 875.35L1362.4 873.35L1362.46 871.35L1362.52 869.35L1362.58 867.35L1362.64 865.35L1362.7 863.35L1362.77 861.35L1362.83 859.35L1362.9 857.35L1362.97 855.35L1363.04 853.35L1363.11 851.35L1363.19 849.35L1363.26 847.35L1363.34 845.35L1363.42 843.35L1363.51 841.35L1363.59 839.35L1363.68 837.35L1363.77 835.35L1363.86 833.35L1363.96 831.35L1364.06 829.35L1364.16 827.35L1364.26 825.35L1364.37 823.35L1364.48 821.35L1364.6 819.35L1364.71 817.35L1364.84 815.35L1364.96 813.35L1365.09 811.35L1365.23 809.35L1365.37 807.35L1365.52 805.35L1365.67 803.35L1365.75 802.35L1365.83 801.35L1365.91 800.35L1365.99 799.35L1366.08 798.35L1366.17 797.35L1366.26 796.35L1366.35 795.35L1366.44 794.35L1366.54 793.35L1366.63 792.35L1366.74 791.35L1366.84 790.35L1366.94 789.35L1367.05 788.35L1367.16 787.35L1367.28 786.35L1367.39 785.35L1367.52 784.35L1367.64 783.35L1367.77 782.35L1367.9 781.35L1368.04 780.35L1368.18 779.35L1368.32 778.35L1368.47 777.35L1368.63 776.35L1368.79 775.35L1368.95 774.35L1369.13 773.35L1369.31 772.35L1369.5 771.35L1369.69 770.35L1369.9 769.35L1370.11 768.35L1370.34 767.35L1370.57 766.35L1370.82 765.35L1371.08 764.35L1371.36 763.35L1371.66 762.35L1371.97 761.35L1372.31 760.35L1372.67 759.35L1372.76 759.1L1372.86 758.85L1372.95 758.6L1373.05 758.35L1373.16 758.1L1373.26 757.85L1373.37 757.6L1373.47 757.35L1373.58 757.1L1373.7 756.85L1373.81 756.6L1373.93 756.35L1374.05 756.1L1374.18 755.85L1374.31 755.6L1374.44 755.35L1374.57 755.1L1374.71 754.85L1374.85 754.6L1375 754.35L1375.14 754.1L1375.3 753.85L1375.46 753.6L1375.62 753.35L1375.79 753.1L1375.96 752.85L1376.14 752.6L1376.33 752.35L1376.52 752.1L1376.72 751.85L1376.93 751.6L1377.15 751.35L1377.37 751.1L1377.61 750.85L1377.86 750.6L1378.11 750.35L1378.17 750.3L1378.57 749.92L1378.98 749.56L1379.39 749.21L1379.8 748.87L1380.21 748.54L1380.62 748.23L1381.03 747.93L1381.44 747.64L1381.85 747.37L1382.25 747.11L1382.66 746.86L1383.07 746.62L1383.48 746.4L1383.89 746.19L1384.3 745.99L1384.71 745.8L1385.12 745.63L1385.53 745.47L1385.94 745.32L1386.34 745.19L1386.75 745.07L1387.16 744.96L1387.57 744.86L1387.98 744.78L1388.39 744.71L1388.8 744.65L1389.21 744.61L1389.62 744.58L1390.02 744.56L1390.43 744.55L1391.27 744.58L1392.1 744.67L1392.93 744.83L1393.77 745.05L1394.6 745.33L1395.43 745.67L1396.27 746.08L1397.1 746.55L1397.1 747.55L1397.1 814.25"/><path d="M1400.5 924.55L1400.51 924.55L1400.58 912.55L1400.65 906.55L1400.71 902.55L1400.77 898.55L1400.84 894.55L1400.92 890.55L1401 886.55L1401.08 882.55L1401.17 878.55L1401.27 874.55L1401.37 870.55L1401.42 868.55L1401.47 866.55L1401.53 864.55L1401.58 862.55L1401.64 860.55L1401.7 858.55L1401.76 856.55L1401.82 854.55L1401.88 852.55L1401.95 850.55L1402.02 848.55L1402.08 846.55L1402.16 844.55L1402.23 842.55L1402.3 840.55L1402.38 838.55L1402.46 836.55L1402.54 834.55L1402.62 832.55L1402.7 830.55L1402.79 828.55L1402.88 826.55L1402.97 824.55L1403.07 822.55L1403.17 820.55L1403.27 818.55L1403.37 816.55L1403.48 814.55L1403.59 812.55L1403.71 810.55L1403.82 808.55L1403.95 806.55L1404.08 804.55L1404.21 802.55L1404.34 800.55L1404.49 798.55L1404.63 796.55L1404.71 795.55L1404.79 794.55L1404.87 793.55L1404.95 792.55L1405.03 791.55L1405.12 790.55L1405.2 789.55L1405.29 788.55L1405.38 787.55L1405.47 786.55L1405.57 785.55L1405.67 784.55L1405.76 783.55L1405.87 782.55L1405.97 781.55L1406.08 780.55L1406.19 779.55L1406.3 778.55L1406.42 777.55L1406.54 776.55L1406.66 775.55L1406.79 774.55L1406.92 773.55L1407.06 772.55L1407.2 771.55L1407.34 770.55L1407.49 769.55L1407.64 768.55L1407.81 767.55L1407.97 766.55L1408.15 765.55L1408.33 764.55L1408.51 763.55L1408.71 762.55L1408.91 761.55L1409.13 760.55L1409.35 759.55L1409.59 758.55L1409.84 757.55L1410.1 756.55L1410.38 755.55L1410.68 754.55L1410.99 753.55L1411.33 752.55L1411.69 751.55L1411.79 751.3L1411.88 751.05L1411.98 750.8L1412.08 750.55L1412.19 750.3L1412.29 750.05L1412.4 749.8L1412.51 749.55L1412.62 749.3L1412.74 749.05L1412.85 748.8L1412.97 748.55L1413.1 748.3L1413.22 748.05L1413.35 747.8L1413.49 747.55L1413.62 747.3L1413.76 747.05L1413.91 746.8L1414.06 746.55L1414.21 746.3L1414.37 746.05L1414.53 745.8L1414.7 745.55L1414.87 745.3L1415.05 745.05L1415.23 744.8L1415.43 744.55L1415.62 744.3L1415.83 744.05L1416.05 743.8L1416.27 743.55L1416.5 743.3L1416.75 743.05L1417 742.8L1417.41 742.42L1417.82 742.06L1418.23 741.71L1418.64 741.37L1419.05 741.04L1419.46 740.73L1419.87 740.43L1420.27 740.14L1420.68 739.87L1421.09 739.61L1421.5 739.36L1421.91 739.12L1422.32 738.9L1422.73 738.69L1423.14 738.49L1423.54 738.3L1423.95 738.13L1424.36 737.97L1424.77 737.82L1425.18 737.69L1425.59 737.57L1426 737.46L1426.41 737.36L1426.81 737.28L1427.22 737.21L1427.63 737.15L1428.04 737.11L1428.45 737.08L1428.86 737.06L1429.27 737.05L1430.08 737.08L1430.9 737.17L1431.72 737.33L1432.53 737.55L1433.35 737.83L1434.17 738.17L1434.98 738.58L1435.8 739.05L1435.8 740.05L1435.8 808.25"/><path d="M1439.5 920.45L1439.51 920.45L1439.56 908.45L1439.63 902.45L1439.68 898.45L1439.74 894.45L1439.8 890.45L1439.87 886.45L1439.94 882.45L1440.02 878.45L1440.1 874.45L1440.19 870.45L1440.28 866.45L1440.38 862.45L1440.43 860.45L1440.49 858.45L1440.54 856.45L1440.59 854.45L1440.65 852.45L1440.71 850.45L1440.77 848.45L1440.83 846.45L1440.89 844.45L1440.96 842.45L1441.02 840.45L1441.09 838.45L1441.16 836.45L1441.23 834.45L1441.31 832.45L1441.38 830.45L1441.46 828.45L1441.54 826.45L1441.62 824.45L1441.71 822.45L1441.79 820.45L1441.88 818.45L1441.97 816.45L1442.07 814.45L1442.17 812.45L1442.27 810.45L1442.37 808.45L1442.48 806.45L1442.59 804.45L1442.7 802.45L1442.82 800.45L1442.95 798.45L1443.07 796.45L1443.21 794.45L1443.34 792.45L1443.49 790.45L1443.63 788.45L1443.71 787.45L1443.79 786.45L1443.87 785.45L1443.95 784.45L1444.03 783.45L1444.12 782.45L1444.21 781.45L1444.3 780.45L1444.39 779.45L1444.48 778.45L1444.58 777.45L1444.67 776.45L1444.77 775.45L1444.88 774.45L1444.98 773.45L1445.09 772.45L1445.2 771.45L1445.32 770.45L1445.44 769.45L1445.56 768.45L1445.69 767.45L1445.82 766.45L1445.95 765.45L1446.09 764.45L1446.23 763.45L1446.38 762.45L1446.53 761.45L1446.69 760.45L1446.85 759.45L1447.03 758.45L1447.2 757.45L1447.39 756.45L1447.58 755.45L1447.79 754.45L1448 753.45L1448.22 752.45L1448.46 751.45L1448.7 750.45L1448.96 749.45L1449.24 748.45L1449.53 747.45L1449.85 746.45L1450.18 745.45L1450.54 744.45L1450.64 744.2L1450.73 743.95L1450.83 743.7L1450.93 743.45L1451.04 743.2L1451.14 742.95L1451.25 742.7L1451.36 742.45L1451.47 742.2L1451.58 741.95L1451.7 741.7L1451.82 741.45L1451.94 741.2L1452.07 740.95L1452.2 740.7L1452.33 740.45L1452.47 740.2L1452.61 739.95L1452.75 739.7L1452.9 739.45L1453.05 739.2L1453.21 738.95L1453.37 738.7L1453.54 738.45L1453.71 738.2L1453.89 737.95L1454.07 737.7L1454.26 737.45L1454.46 737.2L1454.67 736.95L1454.89 736.7L1455.11 736.45L1455.35 736.2L1455.59 735.95L1455.85 735.7L1456.12 735.45L1456.29 735.3L1456.69 734.96L1457.09 734.62L1457.5 734.3L1457.9 733.99L1458.31 733.7L1458.71 733.41L1459.11 733.14L1459.52 732.87L1459.92 732.62L1460.32 732.38L1460.73 732.16L1461.13 731.94L1461.54 731.74L1461.94 731.54L1462.34 731.36L1462.75 731.19L1463.15 731.04L1463.55 730.89L1463.96 730.76L1464.36 730.63L1464.77 730.52L1465.17 730.42L1465.57 730.34L1465.98 730.26L1466.38 730.2L1466.78 730.14L1467.19 730.1L1467.59 730.07L1468 730.06L1468.4 730.05L1469.2 730.08L1470 730.17L1470.8 730.33L1471.6 730.55L1472.4 730.83L1473.2 731.17L1474 731.58L1474.8 732.05L1474.8 733.05L1474.8 802"/><path d="M1478.2 915.45L1478.2 915.45L1478.26 903.45L1478.31 897.45L1478.39 891.45L1478.44 887.45L1478.5 883.45L1478.57 879.45L1478.64 875.45L1478.71 871.45L1478.79 867.45L1478.88 863.45L1478.96 859.45L1479.06 855.45L1479.16 851.45L1479.21 849.45L1479.26 847.45L1479.32 845.45L1479.37 843.45L1479.43 841.45L1479.49 839.45L1479.55 837.45L1479.61 835.45L1479.68 833.45L1479.74 831.45L1479.81 829.45L1479.88 827.45L1479.95 825.45L1480.02 823.45L1480.1 821.45L1480.18 819.45L1480.26 817.45L1480.34 815.45L1480.42 813.45L1480.51 811.45L1480.6 809.45L1480.69 807.45L1480.79 805.45L1480.88 803.45L1480.98 801.45L1481.09 799.45L1481.2 797.45L1481.31 795.45L1481.42 793.45L1481.54 791.45L1481.67 789.45L1481.8 787.45L1481.93 785.45L1482.07 783.45L1482.21 781.45L1482.29 780.45L1482.36 779.45L1482.44 778.45L1482.52 777.45L1482.6 776.45L1482.68 775.45L1482.77 774.45L1482.86 773.45L1482.94 772.45L1483.04 771.45L1483.13 770.45L1483.22 769.45L1483.32 768.45L1483.42 767.45L1483.53 766.45L1483.63 765.45L1483.74 764.45L1483.85 763.45L1483.97 762.45L1484.08 761.45L1484.21 760.45L1484.33 759.45L1484.46 758.45L1484.6 757.45L1484.73 756.45L1484.88 755.45L1485.03 754.45L1485.18 753.45L1485.34 752.45L1485.5 751.45L1485.68 750.45L1485.86 749.45L1486.04 748.45L1486.24 747.45L1486.44 746.45L1486.66 745.45L1486.88 744.45L1487.12 743.45L1487.37 742.45L1487.63 741.45L1487.91 740.45L1488.21 739.45L1488.53 738.45L1488.88 737.45L1488.97 737.2L1489.06 736.95L1489.15 736.7L1489.24 736.45L1489.34 736.2L1489.44 735.95L1489.54 735.7L1489.64 735.45L1489.75 735.2L1489.86 734.95L1489.97 734.7L1490.08 734.45L1490.2 734.2L1490.31 733.95L1490.44 733.7L1490.56 733.45L1490.69 733.2L1490.82 732.95L1490.95 732.7L1491.09 732.45L1491.23 732.2L1491.38 731.95L1491.53 731.7L1491.68 731.45L1491.84 731.2L1492.01 730.95L1492.18 730.7L1492.35 730.45L1492.54 730.2L1492.73 729.95L1492.92 729.7L1493.13 729.45L1493.34 729.2L1493.56 728.95L1493.79 728.7L1494.03 728.45L1494.29 728.2L1494.44 728.05L1494.84 727.69L1495.24 727.34L1495.64 727L1496.04 726.68L1496.44 726.37L1496.84 726.07L1497.24 725.78L1497.64 725.51L1498.04 725.25L1498.44 724.99L1498.84 724.76L1499.24 724.53L1499.64 724.32L1500.04 724.11L1500.44 723.92L1500.84 723.75L1501.24 723.58L1501.64 723.43L1502.04 723.29L1502.44 723.16L1502.84 723.04L1503.24 722.94L1503.64 722.85L1504.04 722.77L1504.43 722.7L1504.83 722.65L1505.23 722.6L1505.63 722.57L1506.03 722.56L1506.43 722.55L1507.22 722.58L1508 722.67L1508.78 722.83L1509.57 723.05L1510.35 723.33L1511.13 723.67L1511.92 724.08L1512.7 724.55L1512.7 725.55L1512.7 795.75"/><path d="M1516.4 911.35L1516.4 911.35L1516.45 899.35L1516.51 893.35L1516.57 887.35L1516.62 883.35L1516.68 879.35L1516.74 875.35L1516.8 871.35L1516.87 867.35L1516.95 863.35L1517.03 859.35L1517.11 855.35L1517.2 851.35L1517.29 847.35L1517.39 843.35L1517.44 841.35L1517.49 839.35L1517.55 837.35L1517.6 835.35L1517.66 833.35L1517.72 831.35L1517.78 829.35L1517.84 827.35L1517.91 825.35L1517.97 823.35L1518.04 821.35L1518.11 819.35L1518.18 817.35L1518.25 815.35L1518.33 813.35L1518.41 811.35L1518.49 809.35L1518.57 807.35L1518.65 805.35L1518.74 803.35L1518.83 801.35L1518.92 799.35L1519.02 797.35L1519.12 795.35L1519.22 793.35L1519.33 791.35L1519.43 789.35L1519.55 787.35L1519.66 785.35L1519.79 783.35L1519.91 781.35L1520.04 779.35L1520.18 777.35L1520.32 775.35L1520.39 774.35L1520.47 773.35L1520.54 772.35L1520.62 771.35L1520.7 770.35L1520.78 769.35L1520.86 768.35L1520.95 767.35L1521.04 766.35L1521.12 765.35L1521.22 764.35L1521.31 763.35L1521.41 762.35L1521.5 761.35L1521.6 760.35L1521.71 759.35L1521.81 758.35L1521.92 757.35L1522.04 756.35L1522.15 755.35L1522.27 754.35L1522.4 753.35L1522.52 752.35L1522.65 751.35L1522.79 750.35L1522.93 749.35L1523.07 748.35L1523.22 747.35L1523.38 746.35L1523.54 745.35L1523.71 744.35L1523.89 743.35L1524.07 742.35L1524.26 741.35L1524.46 740.35L1524.67 739.35L1524.89 738.35L1525.12 737.35L1525.37 736.35L1525.63 735.35L1525.9 734.35L1526.19 733.35L1526.5 732.35L1526.84 731.35L1527.2 730.35L1527.29 730.1L1527.39 729.85L1527.49 729.6L1527.59 729.35L1527.69 729.1L1527.8 728.85L1527.9 728.6L1528.01 728.35L1528.12 728.1L1528.24 727.85L1528.36 727.6L1528.48 727.35L1528.6 727.1L1528.73 726.85L1528.86 726.6L1528.99 726.35L1529.13 726.1L1529.27 725.85L1529.42 725.6L1529.57 725.35L1529.72 725.1L1529.88 724.85L1530.04 724.6L1530.21 724.35L1530.39 724.1L1530.57 723.85L1530.76 723.6L1530.96 723.35L1531.16 723.1L1531.38 722.85L1531.6 722.6L1531.83 722.35L1532.07 722.1L1532.33 721.85L1532.59 721.6L1532.65 721.55L1533.04 721.21L1533.44 720.87L1533.83 720.55L1534.22 720.24L1534.62 719.95L1535.01 719.66L1535.41 719.39L1535.8 719.12L1536.19 718.87L1536.59 718.63L1536.98 718.41L1537.38 718.19L1537.77 717.99L1538.16 717.79L1538.56 717.61L1538.95 717.44L1539.35 717.29L1539.74 717.14L1540.13 717.01L1540.53 716.88L1540.92 716.77L1541.31 716.67L1541.71 716.59L1542.1 716.51L1542.5 716.45L1542.89 716.39L1543.28 716.35L1543.68 716.32L1544.07 716.31L1544.47 716.3L1545.23 716.33L1546 716.42L1546.77 716.58L1547.53 716.8L1548.3 717.08L1549.07 717.42L1549.83 717.83L1550.6 718.3L1550.6 719.3L1550.6 789.5"/><path d="M1553.5 906.35L1554.7 866.35L1556.3 812L1557.1 784.55"/></g>
</g>
<g fill="#000"><circle cx="289.6" cy="996.6" r="2.1"/><circle cx="290.07" cy="1006.6" r="2.1"/><circle cx="290.54" cy="1016.6" r="2.1"/><circle cx="291.01" cy="1026.6" r="2.1"/><circle cx="291.48" cy="1036.6" r="2.1"/><circle cx="289.53" cy="1001.6" r="2.1"/><circle cx="289.39" cy="1011.6" r="2.1"/><circle cx="289.25" cy="1021.6" r="2.1"/><circle cx="289.11" cy="1031.6" r="2.1"/><circle cx="370.2" cy="955.4" r="2.1"/><circle cx="370.6" cy="965.4" r="2.1"/><circle cx="371.01" cy="975.4" r="2.1"/><circle cx="371.41" cy="985.4" r="2.1"/><circle cx="371.82" cy="995.4" r="2.1"/><circle cx="372.22" cy="1005.4" r="2.1"/><circle cx="372.63" cy="1015.4" r="2.1"/><circle cx="373.03" cy="1025.4" r="2.1"/><circle cx="370.15" cy="960.4" r="2.1"/><circle cx="370.06" cy="970.4" r="2.1"/><circle cx="369.97" cy="980.4" r="2.1"/><circle cx="369.87" cy="990.4" r="2.1"/><circle cx="369.78" cy="1000.4" r="2.1"/><circle cx="369.68" cy="1010.4" r="2.1"/><circle cx="413.3" cy="928.8" r="2.1"/><circle cx="413.59" cy="938.8" r="2.1"/><circle cx="413.89" cy="948.8" r="2.1"/><circle cx="414.18" cy="958.8" r="2.1"/><circle cx="414.48" cy="968.8" r="2.1"/><circle cx="414.77" cy="978.8" r="2.1"/><circle cx="415.07" cy="988.8" r="2.1"/><circle cx="415.36" cy="998.8" r="2.1"/><circle cx="415.65" cy="1008.8" r="2.1"/><circle cx="415.95" cy="1018.8" r="2.1"/><circle cx="413.26" cy="933.8" r="2.1"/><circle cx="413.19" cy="943.8" r="2.1"/><circle cx="413.11" cy="953.8" r="2.1"/><circle cx="413.04" cy="963.8" r="2.1"/><circle cx="412.96" cy="973.8" r="2.1"/><circle cx="412.88" cy="983.8" r="2.1"/><circle cx="412.81" cy="993.8" r="2.1"/><circle cx="412.73" cy="1003.8" r="2.1"/><circle cx="456.2" cy="902.7" r="2.1"/><circle cx="456.53" cy="912.7" r="2.1"/><circle cx="456.85" cy="922.7" r="2.1"/><circle cx="457.18" cy="932.7" r="2.1"/><circle cx="457.5" cy="942.7" r="2.1"/><circle cx="457.83" cy="952.7" r="2.1"/><circle cx="458.16" cy="962.7" r="2.1"/><circle cx="458.48" cy="972.7" r="2.1"/><circle cx="458.81" cy="982.7" r="2.1"/><circle cx="459.13" cy="992.7" r="2.1"/><circle cx="459.46" cy="1002.7" r="2.1"/><circle cx="459.78" cy="1012.7" r="2.1"/><circle cx="456.17" cy="907.7" r="2.1"/><circle cx="456.1" cy="917.7" r="2.1"/><circle cx="456.04" cy="927.7" r="2.1"/><circle cx="455.98" cy="937.7" r="2.1"/><circle cx="455.91" cy="947.7" r="2.1"/><circle cx="455.85" cy="957.7" r="2.1"/><circle cx="455.79" cy="967.7" r="2.1"/><circle cx="455.72" cy="977.7" r="2.1"/><circle cx="455.66" cy="987.7" r="2.1"/><circle cx="500.8" cy="880.8" r="2.1"/><circle cx="501.09" cy="890.8" r="2.1"/><circle cx="501.38" cy="900.8" r="2.1"/><circle cx="501.66" cy="910.8" r="2.1"/><circle cx="501.95" cy="920.8" r="2.1"/><circle cx="502.24" cy="930.8" r="2.1"/><circle cx="502.53" cy="940.8" r="2.1"/><circle cx="502.82" cy="950.8" r="2.1"/><circle cx="503.1" cy="960.8" r="2.1"/><circle cx="503.39" cy="970.8" r="2.1"/><circle cx="503.68" cy="980.8" r="2.1"/><circle cx="503.97" cy="990.8" r="2.1"/><circle cx="504.25" cy="1000.8" r="2.1"/><circle cx="504.54" cy="1010.8" r="2.1"/><circle cx="500.77" cy="885.8" r="2.1"/><circle cx="500.71" cy="895.8" r="2.1"/><circle cx="500.66" cy="905.8" r="2.1"/><circle cx="500.6" cy="915.8" r="2.1"/><circle cx="500.54" cy="925.8" r="2.1"/><circle cx="500.49" cy="935.8" r="2.1"/><circle cx="500.43" cy="945.8" r="2.1"/><circle cx="500.37" cy="955.8" r="2.1"/><circle cx="500.31" cy="965.8" r="2.1"/><circle cx="500.26" cy="975.8" r="2.1"/><circle cx="546.2" cy="860.4" r="2.1"/><circle cx="546.39" cy="870.4" r="2.1"/><circle cx="546.59" cy="880.4" r="2.1"/><circle cx="546.78" cy="890.4" r="2.1"/><circle cx="546.98" cy="900.4" r="2.1"/><circle cx="547.17" cy="910.4" r="2.1"/><circle cx="547.36" cy="920.4" r="2.1"/><circle cx="547.56" cy="930.4" r="2.1"/><circle cx="547.75" cy="940.4" r="2.1"/><circle cx="547.95" cy="950.4" r="2.1"/><circle cx="548.14" cy="960.4" r="2.1"/><circle cx="548.34" cy="970.4" r="2.1"/><circle cx="548.53" cy="980.4" r="2.1"/><circle cx="548.72" cy="990.4" r="2.1"/><circle cx="548.92" cy="1000.4" r="2.1"/><circle cx="549.11" cy="1010.4" r="2.1"/><circle cx="546.17" cy="865.4" r="2.1"/><circle cx="546.12" cy="875.4" r="2.1"/><circle cx="546.07" cy="885.4" r="2.1"/><circle cx="546.02" cy="895.4" r="2.1"/><circle cx="545.96" cy="905.4" r="2.1"/><circle cx="545.91" cy="915.4" r="2.1"/><circle cx="545.86" cy="925.4" r="2.1"/><circle cx="545.81" cy="935.4" r="2.1"/><circle cx="545.75" cy="945.4" r="2.1"/><circle cx="545.7" cy="955.4" r="2.1"/><circle cx="545.65" cy="965.4" r="2.1"/><circle cx="590" cy="842.3" r="2.1"/><circle cx="590.26" cy="852.3" r="2.1"/><circle cx="590.51" cy="862.3" r="2.1"/><circle cx="590.77" cy="872.3" r="2.1"/><circle cx="591.03" cy="882.3" r="2.1"/><circle cx="591.28" cy="892.3" r="2.1"/><circle cx="591.54" cy="902.3" r="2.1"/><circle cx="591.8" cy="912.3" r="2.1"/><circle cx="592.05" cy="922.3" r="2.1"/><circle cx="592.31" cy="932.3" r="2.1"/><circle cx="592.57" cy="942.3" r="2.1"/><circle cx="592.82" cy="952.3" r="2.1"/><circle cx="593.08" cy="962.3" r="2.1"/><circle cx="593.34" cy="972.3" r="2.1"/><circle cx="593.6" cy="982.3" r="2.1"/><circle cx="593.85" cy="992.3" r="2.1"/><circle cx="594.11" cy="1002.3" r="2.1"/><circle cx="589.98" cy="847.3" r="2.1"/><circle cx="589.93" cy="857.3" r="2.1"/><circle cx="589.88" cy="867.3" r="2.1"/><circle cx="589.83" cy="877.3" r="2.1"/><circle cx="589.78" cy="887.3" r="2.1"/><circle cx="589.73" cy="897.3" r="2.1"/><circle cx="589.68" cy="907.3" r="2.1"/><circle cx="589.63" cy="917.3" r="2.1"/><circle cx="589.58" cy="927.3" r="2.1"/><circle cx="589.53" cy="937.3" r="2.1"/><circle cx="589.48" cy="947.3" r="2.1"/><circle cx="589.43" cy="957.3" r="2.1"/><circle cx="634.8" cy="826.5" r="2.1"/><circle cx="635.04" cy="836.5" r="2.1"/><circle cx="635.27" cy="846.5" r="2.1"/><circle cx="635.51" cy="856.5" r="2.1"/><circle cx="635.74" cy="866.5" r="2.1"/><circle cx="635.98" cy="876.5" r="2.1"/><circle cx="636.21" cy="886.5" r="2.1"/><circle cx="636.45" cy="896.5" r="2.1"/><circle cx="636.68" cy="906.5" r="2.1"/><circle cx="636.92" cy="916.5" r="2.1"/><circle cx="637.15" cy="926.5" r="2.1"/><circle cx="637.39" cy="936.5" r="2.1"/><circle cx="637.62" cy="946.5" r="2.1"/><circle cx="637.86" cy="956.5" r="2.1"/><circle cx="638.1" cy="966.5" r="2.1"/><circle cx="638.33" cy="976.5" r="2.1"/><circle cx="638.57" cy="986.5" r="2.1"/><circle cx="638.8" cy="996.5" r="2.1"/><circle cx="634.78" cy="831.5" r="2.1"/><circle cx="634.73" cy="841.5" r="2.1"/><circle cx="634.68" cy="851.5" r="2.1"/><circle cx="634.63" cy="861.5" r="2.1"/><circle cx="634.59" cy="871.5" r="2.1"/><circle cx="634.54" cy="881.5" r="2.1"/><circle cx="634.49" cy="891.5" r="2.1"/><circle cx="634.44" cy="901.5" r="2.1"/><circle cx="634.4" cy="911.5" r="2.1"/><circle cx="634.35" cy="921.5" r="2.1"/><circle cx="634.3" cy="931.5" r="2.1"/><circle cx="634.26" cy="941.5" r="2.1"/><circle cx="680" cy="809.9" r="2.1"/><circle cx="680.17" cy="819.9" r="2.1"/><circle cx="680.35" cy="829.9" r="2.1"/><circle cx="680.52" cy="839.9" r="2.1"/><circle cx="680.69" cy="849.9" r="2.1"/><circle cx="680.87" cy="859.9" r="2.1"/><circle cx="681.04" cy="869.9" r="2.1"/><circle cx="681.22" cy="879.9" r="2.1"/><circle cx="681.39" cy="889.9" r="2.1"/><circle cx="681.56" cy="899.9" r="2.1"/><circle cx="681.74" cy="909.9" r="2.1"/><circle cx="681.91" cy="919.9" r="2.1"/><circle cx="682.08" cy="929.9" r="2.1"/><circle cx="682.26" cy="939.9" r="2.1"/><circle cx="682.43" cy="949.9" r="2.1"/><circle cx="682.6" cy="959.9" r="2.1"/><circle cx="682.78" cy="969.9" r="2.1"/><circle cx="682.95" cy="979.9" r="2.1"/><circle cx="683.13" cy="989.9" r="2.1"/><circle cx="679.98" cy="814.9" r="2.1"/><circle cx="679.93" cy="824.9" r="2.1"/><circle cx="679.89" cy="834.9" r="2.1"/><circle cx="679.84" cy="844.9" r="2.1"/><circle cx="679.8" cy="854.9" r="2.1"/><circle cx="679.75" cy="864.9" r="2.1"/><circle cx="679.7" cy="874.9" r="2.1"/><circle cx="679.66" cy="884.9" r="2.1"/><circle cx="679.61" cy="894.9" r="2.1"/><circle cx="679.57" cy="904.9" r="2.1"/><circle cx="679.52" cy="914.9" r="2.1"/><circle cx="679.48" cy="924.9" r="2.1"/><circle cx="679.43" cy="934.9" r="2.1"/><circle cx="724.1" cy="796.5" r="2.1"/><circle cx="724.3" cy="806.5" r="2.1"/><circle cx="724.49" cy="816.5" r="2.1"/><circle cx="724.69" cy="826.5" r="2.1"/><circle cx="724.89" cy="836.5" r="2.1"/><circle cx="725.08" cy="846.5" r="2.1"/><circle cx="725.28" cy="856.5" r="2.1"/><circle cx="725.48" cy="866.5" r="2.1"/><circle cx="725.67" cy="876.5" r="2.1"/><circle cx="725.87" cy="886.5" r="2.1"/><circle cx="726.07" cy="896.5" r="2.1"/><circle cx="726.26" cy="906.5" r="2.1"/><circle cx="726.46" cy="916.5" r="2.1"/><circle cx="726.66" cy="926.5" r="2.1"/><circle cx="726.85" cy="936.5" r="2.1"/><circle cx="727.05" cy="946.5" r="2.1"/><circle cx="727.25" cy="956.5" r="2.1"/><circle cx="727.44" cy="966.5" r="2.1"/><circle cx="727.64" cy="976.5" r="2.1"/><circle cx="727.84" cy="986.5" r="2.1"/><circle cx="724.08" cy="801.5" r="2.1"/><circle cx="724.03" cy="811.5" r="2.1"/><circle cx="723.99" cy="821.5" r="2.1"/><circle cx="723.94" cy="831.5" r="2.1"/><circle cx="723.9" cy="841.5" r="2.1"/><circle cx="723.86" cy="851.5" r="2.1"/><circle cx="723.81" cy="861.5" r="2.1"/><circle cx="723.77" cy="871.5" r="2.1"/><circle cx="723.72" cy="881.5" r="2.1"/><circle cx="723.68" cy="891.5" r="2.1"/><circle cx="723.63" cy="901.5" r="2.1"/><circle cx="723.59" cy="911.5" r="2.1"/><circle cx="723.54" cy="921.5" r="2.1"/><circle cx="768.7" cy="783.2" r="2.1"/><circle cx="768.88" cy="793.2" r="2.1"/><circle cx="769.07" cy="803.2" r="2.1"/><circle cx="769.25" cy="813.2" r="2.1"/><circle cx="769.44" cy="823.2" r="2.1"/><circle cx="769.62" cy="833.2" r="2.1"/><circle cx="769.8" cy="843.2" r="2.1"/><circle cx="769.99" cy="853.2" r="2.1"/><circle cx="770.17" cy="863.2" r="2.1"/><circle cx="770.36" cy="873.2" r="2.1"/><circle cx="770.54" cy="883.2" r="2.1"/><circle cx="770.73" cy="893.2" r="2.1"/><circle cx="770.91" cy="903.2" r="2.1"/><circle cx="771.09" cy="913.2" r="2.1"/><circle cx="771.28" cy="923.2" r="2.1"/><circle cx="771.46" cy="933.2" r="2.1"/><circle cx="771.65" cy="943.2" r="2.1"/><circle cx="771.83" cy="953.2" r="2.1"/><circle cx="772.01" cy="963.2" r="2.1"/><circle cx="772.2" cy="973.2" r="2.1"/><circle cx="772.38" cy="983.2" r="2.1"/><circle cx="768.68" cy="788.2" r="2.1"/><circle cx="768.63" cy="798.2" r="2.1"/><circle cx="768.59" cy="808.2" r="2.1"/><circle cx="768.55" cy="818.2" r="2.1"/><circle cx="768.5" cy="828.2" r="2.1"/><circle cx="768.46" cy="838.2" r="2.1"/><circle cx="768.42" cy="848.2" r="2.1"/><circle cx="768.37" cy="858.2" r="2.1"/><circle cx="768.33" cy="868.2" r="2.1"/><circle cx="768.28" cy="878.2" r="2.1"/><circle cx="768.24" cy="888.2" r="2.1"/><circle cx="768.2" cy="898.2" r="2.1"/><circle cx="768.15" cy="908.2" r="2.1"/><circle cx="768.11" cy="918.2" r="2.1"/><circle cx="813.1" cy="770.8" r="2.1"/><circle cx="813.28" cy="780.8" r="2.1"/><circle cx="813.46" cy="790.8" r="2.1"/><circle cx="813.65" cy="800.8" r="2.1"/><circle cx="813.83" cy="810.8" r="2.1"/><circle cx="814.01" cy="820.8" r="2.1"/><circle cx="814.19" cy="830.8" r="2.1"/><circle cx="814.37" cy="840.8" r="2.1"/><circle cx="814.55" cy="850.8" r="2.1"/><circle cx="814.74" cy="860.8" r="2.1"/><circle cx="814.92" cy="870.8" r="2.1"/><circle cx="815.1" cy="880.8" r="2.1"/><circle cx="815.28" cy="890.8" r="2.1"/><circle cx="815.46" cy="900.8" r="2.1"/><circle cx="815.64" cy="910.8" r="2.1"/><circle cx="815.83" cy="920.8" r="2.1"/><circle cx="816.01" cy="930.8" r="2.1"/><circle cx="816.19" cy="940.8" r="2.1"/><circle cx="816.37" cy="950.8" r="2.1"/><circle cx="816.55" cy="960.8" r="2.1"/><circle cx="816.73" cy="970.8" r="2.1"/><circle cx="816.92" cy="980.8" r="2.1"/><circle cx="813.08" cy="775.8" r="2.1"/><circle cx="813.04" cy="785.8" r="2.1"/><circle cx="812.99" cy="795.8" r="2.1"/><circle cx="812.95" cy="805.8" r="2.1"/><circle cx="812.91" cy="815.8" r="2.1"/><circle cx="812.86" cy="825.8" r="2.1"/><circle cx="812.82" cy="835.8" r="2.1"/><circle cx="812.78" cy="845.8" r="2.1"/><circle cx="812.73" cy="855.8" r="2.1"/><circle cx="812.69" cy="865.8" r="2.1"/><circle cx="812.65" cy="875.8" r="2.1"/><circle cx="812.61" cy="885.8" r="2.1"/><circle cx="812.56" cy="895.8" r="2.1"/><circle cx="812.52" cy="905.8" r="2.1"/><circle cx="857.3" cy="759.3" r="2.1"/><circle cx="857.47" cy="769.3" r="2.1"/><circle cx="857.63" cy="779.3" r="2.1"/><circle cx="857.8" cy="789.3" r="2.1"/><circle cx="857.97" cy="799.3" r="2.1"/><circle cx="858.14" cy="809.3" r="2.1"/><circle cx="858.3" cy="819.3" r="2.1"/><circle cx="858.47" cy="829.3" r="2.1"/><circle cx="858.64" cy="839.3" r="2.1"/><circle cx="858.81" cy="849.3" r="2.1"/><circle cx="858.97" cy="859.3" r="2.1"/><circle cx="859.14" cy="869.3" r="2.1"/><circle cx="859.31" cy="879.3" r="2.1"/><circle cx="859.47" cy="889.3" r="2.1"/><circle cx="859.64" cy="899.3" r="2.1"/><circle cx="859.81" cy="909.3" r="2.1"/><circle cx="859.98" cy="919.3" r="2.1"/><circle cx="860.14" cy="929.3" r="2.1"/><circle cx="860.31" cy="939.3" r="2.1"/><circle cx="860.48" cy="949.3" r="2.1"/><circle cx="860.65" cy="959.3" r="2.1"/><circle cx="860.81" cy="969.3" r="2.1"/><circle cx="857.28" cy="764.3" r="2.1"/><circle cx="857.24" cy="774.3" r="2.1"/><circle cx="857.19" cy="784.3" r="2.1"/><circle cx="857.15" cy="794.3" r="2.1"/><circle cx="857.11" cy="804.3" r="2.1"/><circle cx="857.07" cy="814.3" r="2.1"/><circle cx="857.03" cy="824.3" r="2.1"/><circle cx="856.98" cy="834.3" r="2.1"/><circle cx="856.94" cy="844.3" r="2.1"/><circle cx="856.9" cy="854.3" r="2.1"/><circle cx="856.86" cy="864.3" r="2.1"/><circle cx="856.81" cy="874.3" r="2.1"/><circle cx="856.77" cy="884.3" r="2.1"/><circle cx="856.73" cy="894.3" r="2.1"/><circle cx="901" cy="749.3" r="2.1"/><circle cx="901.18" cy="759.3" r="2.1"/><circle cx="901.35" cy="769.3" r="2.1"/><circle cx="901.53" cy="779.3" r="2.1"/><circle cx="901.71" cy="789.3" r="2.1"/><circle cx="901.88" cy="799.3" r="2.1"/><circle cx="902.06" cy="809.3" r="2.1"/><circle cx="902.23" cy="819.3" r="2.1"/><circle cx="902.41" cy="829.3" r="2.1"/><circle cx="902.59" cy="839.3" r="2.1"/><circle cx="902.76" cy="849.3" r="2.1"/><circle cx="902.94" cy="859.3" r="2.1"/><circle cx="903.12" cy="869.3" r="2.1"/><circle cx="903.29" cy="879.3" r="2.1"/><circle cx="903.47" cy="889.3" r="2.1"/><circle cx="903.65" cy="899.3" r="2.1"/><circle cx="903.82" cy="909.3" r="2.1"/><circle cx="904" cy="919.3" r="2.1"/><circle cx="904.18" cy="929.3" r="2.1"/><circle cx="904.35" cy="939.3" r="2.1"/><circle cx="904.53" cy="949.3" r="2.1"/><circle cx="904.7" cy="959.3" r="2.1"/><circle cx="904.88" cy="969.3" r="2.1"/><circle cx="900.98" cy="754.3" r="2.1"/><circle cx="900.94" cy="764.3" r="2.1"/><circle cx="900.9" cy="774.3" r="2.1"/><circle cx="900.85" cy="784.3" r="2.1"/><circle cx="900.81" cy="794.3" r="2.1"/><circle cx="900.77" cy="804.3" r="2.1"/><circle cx="900.73" cy="814.3" r="2.1"/><circle cx="900.69" cy="824.3" r="2.1"/><circle cx="900.64" cy="834.3" r="2.1"/><circle cx="900.6" cy="844.3" r="2.1"/><circle cx="900.56" cy="854.3" r="2.1"/><circle cx="900.52" cy="864.3" r="2.1"/><circle cx="900.48" cy="874.3" r="2.1"/><circle cx="900.44" cy="884.3" r="2.1"/><circle cx="945" cy="738.5" r="2.1"/><circle cx="945.14" cy="748.5" r="2.1"/><circle cx="945.28" cy="758.5" r="2.1"/><circle cx="945.42" cy="768.5" r="2.1"/><circle cx="945.57" cy="778.5" r="2.1"/><circle cx="945.71" cy="788.5" r="2.1"/><circle cx="945.85" cy="798.5" r="2.1"/><circle cx="945.99" cy="808.5" r="2.1"/><circle cx="946.13" cy="818.5" r="2.1"/><circle cx="946.27" cy="828.5" r="2.1"/><circle cx="946.42" cy="838.5" r="2.1"/><circle cx="946.56" cy="848.5" r="2.1"/><circle cx="946.7" cy="858.5" r="2.1"/><circle cx="946.84" cy="868.5" r="2.1"/><circle cx="946.98" cy="878.5" r="2.1"/><circle cx="947.12" cy="888.5" r="2.1"/><circle cx="947.27" cy="898.5" r="2.1"/><circle cx="947.41" cy="908.5" r="2.1"/><circle cx="947.55" cy="918.5" r="2.1"/><circle cx="947.69" cy="928.5" r="2.1"/><circle cx="947.83" cy="938.5" r="2.1"/><circle cx="947.97" cy="948.5" r="2.1"/><circle cx="948.12" cy="958.5" r="2.1"/><circle cx="944.98" cy="743.5" r="2.1"/><circle cx="944.94" cy="753.5" r="2.1"/><circle cx="944.9" cy="763.5" r="2.1"/><circle cx="944.86" cy="773.5" r="2.1"/><circle cx="944.82" cy="783.5" r="2.1"/><circle cx="944.77" cy="793.5" r="2.1"/><circle cx="944.73" cy="803.5" r="2.1"/><circle cx="944.69" cy="813.5" r="2.1"/><circle cx="944.65" cy="823.5" r="2.1"/><circle cx="944.61" cy="833.5" r="2.1"/><circle cx="944.57" cy="843.5" r="2.1"/><circle cx="944.53" cy="853.5" r="2.1"/><circle cx="944.49" cy="863.5" r="2.1"/><circle cx="944.45" cy="873.5" r="2.1"/><circle cx="988.1" cy="730.4" r="2.1"/><circle cx="988.24" cy="740.4" r="2.1"/><circle cx="988.37" cy="750.4" r="2.1"/><circle cx="988.51" cy="760.4" r="2.1"/><circle cx="988.64" cy="770.4" r="2.1"/><circle cx="988.78" cy="780.4" r="2.1"/><circle cx="988.91" cy="790.4" r="2.1"/><circle cx="989.05" cy="800.4" r="2.1"/><circle cx="989.18" cy="810.4" r="2.1"/><circle cx="989.32" cy="820.4" r="2.1"/><circle cx="989.45" cy="830.4" r="2.1"/><circle cx="989.59" cy="840.4" r="2.1"/><circle cx="989.72" cy="850.4" r="2.1"/><circle cx="989.86" cy="860.4" r="2.1"/><circle cx="989.99" cy="870.4" r="2.1"/><circle cx="990.13" cy="880.4" r="2.1"/><circle cx="990.26" cy="890.4" r="2.1"/><circle cx="990.4" cy="900.4" r="2.1"/><circle cx="990.53" cy="910.4" r="2.1"/><circle cx="990.67" cy="920.4" r="2.1"/><circle cx="990.8" cy="930.4" r="2.1"/><circle cx="990.94" cy="940.4" r="2.1"/><circle cx="991.07" cy="950.4" r="2.1"/><circle cx="991.21" cy="960.4" r="2.1"/><circle cx="988.08" cy="735.4" r="2.1"/><circle cx="988.04" cy="745.4" r="2.1"/><circle cx="988" cy="755.4" r="2.1"/><circle cx="987.96" cy="765.4" r="2.1"/><circle cx="987.92" cy="775.4" r="2.1"/><circle cx="987.88" cy="785.4" r="2.1"/><circle cx="987.84" cy="795.4" r="2.1"/><circle cx="987.8" cy="805.4" r="2.1"/><circle cx="987.76" cy="815.4" r="2.1"/><circle cx="987.72" cy="825.4" r="2.1"/><circle cx="987.68" cy="835.4" r="2.1"/><circle cx="987.64" cy="845.4" r="2.1"/><circle cx="987.6" cy="855.4" r="2.1"/><circle cx="987.56" cy="865.4" r="2.1"/><circle cx="987.52" cy="875.4" r="2.1"/><circle cx="1030.4" cy="721" r="2.1"/><circle cx="1030.57" cy="731" r="2.1"/><circle cx="1030.74" cy="741" r="2.1"/><circle cx="1030.91" cy="751" r="2.1"/><circle cx="1031.08" cy="761" r="2.1"/><circle cx="1031.25" cy="771" r="2.1"/><circle cx="1031.42" cy="781" r="2.1"/><circle cx="1031.58" cy="791" r="2.1"/><circle cx="1031.75" cy="801" r="2.1"/><circle cx="1031.92" cy="811" r="2.1"/><circle cx="1032.09" cy="821" r="2.1"/><circle cx="1032.26" cy="831" r="2.1"/><circle cx="1032.43" cy="841" r="2.1"/><circle cx="1032.6" cy="851" r="2.1"/><circle cx="1032.77" cy="861" r="2.1"/><circle cx="1032.94" cy="871" r="2.1"/><circle cx="1033.11" cy="881" r="2.1"/><circle cx="1033.28" cy="891" r="2.1"/><circle cx="1033.45" cy="901" r="2.1"/><circle cx="1033.62" cy="911" r="2.1"/><circle cx="1033.78" cy="921" r="2.1"/><circle cx="1033.95" cy="931" r="2.1"/><circle cx="1034.12" cy="941" r="2.1"/><circle cx="1034.29" cy="951" r="2.1"/><circle cx="1030.38" cy="726" r="2.1"/><circle cx="1030.34" cy="736" r="2.1"/><circle cx="1030.3" cy="746" r="2.1"/><circle cx="1030.26" cy="756" r="2.1"/><circle cx="1030.22" cy="766" r="2.1"/><circle cx="1030.18" cy="776" r="2.1"/><circle cx="1030.14" cy="786" r="2.1"/><circle cx="1030.1" cy="796" r="2.1"/><circle cx="1030.06" cy="806" r="2.1"/><circle cx="1030.02" cy="816" r="2.1"/><circle cx="1029.98" cy="826" r="2.1"/><circle cx="1029.95" cy="836" r="2.1"/><circle cx="1029.91" cy="846" r="2.1"/><circle cx="1029.87" cy="856" r="2.1"/><circle cx="1029.83" cy="866" r="2.1"/><circle cx="1073.3" cy="713.2" r="2.1"/><circle cx="1073.42" cy="723.2" r="2.1"/><circle cx="1073.54" cy="733.2" r="2.1"/><circle cx="1073.67" cy="743.2" r="2.1"/><circle cx="1073.79" cy="753.2" r="2.1"/><circle cx="1073.91" cy="763.2" r="2.1"/><circle cx="1074.03" cy="773.2" r="2.1"/><circle cx="1074.15" cy="783.2" r="2.1"/><circle cx="1074.28" cy="793.2" r="2.1"/><circle cx="1074.4" cy="803.2" r="2.1"/><circle cx="1074.52" cy="813.2" r="2.1"/><circle cx="1074.64" cy="823.2" r="2.1"/><circle cx="1074.77" cy="833.2" r="2.1"/><circle cx="1074.89" cy="843.2" r="2.1"/><circle cx="1075.01" cy="853.2" r="2.1"/><circle cx="1075.13" cy="863.2" r="2.1"/><circle cx="1075.25" cy="873.2" r="2.1"/><circle cx="1075.38" cy="883.2" r="2.1"/><circle cx="1075.5" cy="893.2" r="2.1"/><circle cx="1075.62" cy="903.2" r="2.1"/><circle cx="1075.74" cy="913.2" r="2.1"/><circle cx="1075.86" cy="923.2" r="2.1"/><circle cx="1075.99" cy="933.2" r="2.1"/><circle cx="1076.11" cy="943.2" r="2.1"/><circle cx="1076.23" cy="953.2" r="2.1"/><circle cx="1073.28" cy="718.2" r="2.1"/><circle cx="1073.24" cy="728.2" r="2.1"/><circle cx="1073.2" cy="738.2" r="2.1"/><circle cx="1073.16" cy="748.2" r="2.1"/><circle cx="1073.12" cy="758.2" r="2.1"/><circle cx="1073.08" cy="768.2" r="2.1"/><circle cx="1073.04" cy="778.2" r="2.1"/><circle cx="1073.01" cy="788.2" r="2.1"/><circle cx="1072.97" cy="798.2" r="2.1"/><circle cx="1072.93" cy="808.2" r="2.1"/><circle cx="1072.89" cy="818.2" r="2.1"/><circle cx="1072.85" cy="828.2" r="2.1"/><circle cx="1072.81" cy="838.2" r="2.1"/><circle cx="1072.77" cy="848.2" r="2.1"/><circle cx="1072.73" cy="858.2" r="2.1"/><circle cx="1114.8" cy="704.1" r="2.1"/><circle cx="1114.94" cy="714.1" r="2.1"/><circle cx="1115.08" cy="724.1" r="2.1"/><circle cx="1115.22" cy="734.1" r="2.1"/><circle cx="1115.36" cy="744.1" r="2.1"/><circle cx="1115.5" cy="754.1" r="2.1"/><circle cx="1115.64" cy="764.1" r="2.1"/><circle cx="1115.78" cy="774.1" r="2.1"/><circle cx="1115.92" cy="784.1" r="2.1"/><circle cx="1116.06" cy="794.1" r="2.1"/><circle cx="1116.2" cy="804.1" r="2.1"/><circle cx="1116.34" cy="814.1" r="2.1"/><circle cx="1116.48" cy="824.1" r="2.1"/><circle cx="1116.62" cy="834.1" r="2.1"/><circle cx="1116.76" cy="844.1" r="2.1"/><circle cx="1116.9" cy="854.1" r="2.1"/><circle cx="1117.04" cy="864.1" r="2.1"/><circle cx="1117.18" cy="874.1" r="2.1"/><circle cx="1117.32" cy="884.1" r="2.1"/><circle cx="1117.46" cy="894.1" r="2.1"/><circle cx="1117.6" cy="904.1" r="2.1"/><circle cx="1117.74" cy="914.1" r="2.1"/><circle cx="1117.88" cy="924.1" r="2.1"/><circle cx="1118.02" cy="934.1" r="2.1"/><circle cx="1118.16" cy="944.1" r="2.1"/><circle cx="1114.78" cy="709.1" r="2.1"/><circle cx="1114.74" cy="719.1" r="2.1"/><circle cx="1114.7" cy="729.1" r="2.1"/><circle cx="1114.66" cy="739.1" r="2.1"/><circle cx="1114.62" cy="749.1" r="2.1"/><circle cx="1114.59" cy="759.1" r="2.1"/><circle cx="1114.55" cy="769.1" r="2.1"/><circle cx="1114.51" cy="779.1" r="2.1"/><circle cx="1114.47" cy="789.1" r="2.1"/><circle cx="1114.43" cy="799.1" r="2.1"/><circle cx="1114.39" cy="809.1" r="2.1"/><circle cx="1114.35" cy="819.1" r="2.1"/><circle cx="1114.31" cy="829.1" r="2.1"/><circle cx="1114.27" cy="839.1" r="2.1"/><circle cx="1114.24" cy="849.1" r="2.1"/><circle cx="1155.8" cy="697.1" r="2.1"/><circle cx="1155.95" cy="707.1" r="2.1"/><circle cx="1156.09" cy="717.1" r="2.1"/><circle cx="1156.24" cy="727.1" r="2.1"/><circle cx="1156.38" cy="737.1" r="2.1"/><circle cx="1156.53" cy="747.1" r="2.1"/><circle cx="1156.68" cy="757.1" r="2.1"/><circle cx="1156.82" cy="767.1" r="2.1"/><circle cx="1156.97" cy="777.1" r="2.1"/><circle cx="1157.11" cy="787.1" r="2.1"/><circle cx="1157.26" cy="797.1" r="2.1"/><circle cx="1157.41" cy="807.1" r="2.1"/><circle cx="1157.55" cy="817.1" r="2.1"/><circle cx="1157.7" cy="827.1" r="2.1"/><circle cx="1157.84" cy="837.1" r="2.1"/><circle cx="1157.99" cy="847.1" r="2.1"/><circle cx="1158.14" cy="857.1" r="2.1"/><circle cx="1158.28" cy="867.1" r="2.1"/><circle cx="1158.43" cy="877.1" r="2.1"/><circle cx="1158.57" cy="887.1" r="2.1"/><circle cx="1158.72" cy="897.1" r="2.1"/><circle cx="1158.87" cy="907.1" r="2.1"/><circle cx="1159.01" cy="917.1" r="2.1"/><circle cx="1159.16" cy="927.1" r="2.1"/><circle cx="1159.31" cy="937.1" r="2.1"/><circle cx="1155.78" cy="702.1" r="2.1"/><circle cx="1155.74" cy="712.1" r="2.1"/><circle cx="1155.7" cy="722.1" r="2.1"/><circle cx="1155.67" cy="732.1" r="2.1"/><circle cx="1155.63" cy="742.1" r="2.1"/><circle cx="1155.59" cy="752.1" r="2.1"/><circle cx="1155.55" cy="762.1" r="2.1"/><circle cx="1155.51" cy="772.1" r="2.1"/><circle cx="1155.47" cy="782.1" r="2.1"/><circle cx="1155.43" cy="792.1" r="2.1"/><circle cx="1155.4" cy="802.1" r="2.1"/><circle cx="1155.36" cy="812.1" r="2.1"/><circle cx="1155.32" cy="822.1" r="2.1"/><circle cx="1155.28" cy="832.1" r="2.1"/><circle cx="1155.24" cy="842.1" r="2.1"/><circle cx="1197.5" cy="689.7" r="2.1"/><circle cx="1197.62" cy="699.7" r="2.1"/><circle cx="1197.73" cy="709.7" r="2.1"/><circle cx="1197.85" cy="719.7" r="2.1"/><circle cx="1197.97" cy="729.7" r="2.1"/><circle cx="1198.08" cy="739.7" r="2.1"/><circle cx="1198.2" cy="749.7" r="2.1"/><circle cx="1198.32" cy="759.7" r="2.1"/><circle cx="1198.44" cy="769.7" r="2.1"/><circle cx="1198.55" cy="779.7" r="2.1"/><circle cx="1198.67" cy="789.7" r="2.1"/><circle cx="1198.79" cy="799.7" r="2.1"/><circle cx="1198.9" cy="809.7" r="2.1"/><circle cx="1199.02" cy="819.7" r="2.1"/><circle cx="1199.14" cy="829.7" r="2.1"/><circle cx="1199.25" cy="839.7" r="2.1"/><circle cx="1199.37" cy="849.7" r="2.1"/><circle cx="1199.49" cy="859.7" r="2.1"/><circle cx="1199.6" cy="869.7" r="2.1"/><circle cx="1199.72" cy="879.7" r="2.1"/><circle cx="1199.84" cy="889.7" r="2.1"/><circle cx="1199.95" cy="899.7" r="2.1"/><circle cx="1200.07" cy="909.7" r="2.1"/><circle cx="1200.19" cy="919.7" r="2.1"/><circle cx="1200.31" cy="929.7" r="2.1"/><circle cx="1200.42" cy="939.7" r="2.1"/><circle cx="1197.48" cy="694.7" r="2.1"/><circle cx="1197.44" cy="704.7" r="2.1"/><circle cx="1197.4" cy="714.7" r="2.1"/><circle cx="1197.37" cy="724.7" r="2.1"/><circle cx="1197.33" cy="734.7" r="2.1"/><circle cx="1197.29" cy="744.7" r="2.1"/><circle cx="1197.25" cy="754.7" r="2.1"/><circle cx="1197.21" cy="764.7" r="2.1"/><circle cx="1197.18" cy="774.7" r="2.1"/><circle cx="1197.14" cy="784.7" r="2.1"/><circle cx="1197.1" cy="794.7" r="2.1"/><circle cx="1197.06" cy="804.7" r="2.1"/><circle cx="1197.02" cy="814.7" r="2.1"/><circle cx="1196.99" cy="824.7" r="2.1"/><circle cx="1196.95" cy="834.7" r="2.1"/><circle cx="1196.91" cy="844.7" r="2.1"/><circle cx="1238.3" cy="681" r="2.1"/><circle cx="1238.41" cy="691" r="2.1"/><circle cx="1238.53" cy="701" r="2.1"/><circle cx="1238.64" cy="711" r="2.1"/><circle cx="1238.76" cy="721" r="2.1"/><circle cx="1238.87" cy="731" r="2.1"/><circle cx="1238.99" cy="741" r="2.1"/><circle cx="1239.1" cy="751" r="2.1"/><circle cx="1239.22" cy="761" r="2.1"/><circle cx="1239.33" cy="771" r="2.1"/><circle cx="1239.45" cy="781" r="2.1"/><circle cx="1239.56" cy="791" r="2.1"/><circle cx="1239.68" cy="801" r="2.1"/><circle cx="1239.79" cy="811" r="2.1"/><circle cx="1239.91" cy="821" r="2.1"/><circle cx="1240.02" cy="831" r="2.1"/><circle cx="1240.14" cy="841" r="2.1"/><circle cx="1240.25" cy="851" r="2.1"/><circle cx="1240.37" cy="861" r="2.1"/><circle cx="1240.48" cy="871" r="2.1"/><circle cx="1240.6" cy="881" r="2.1"/><circle cx="1240.71" cy="891" r="2.1"/><circle cx="1240.83" cy="901" r="2.1"/><circle cx="1240.94" cy="911" r="2.1"/><circle cx="1241.05" cy="921" r="2.1"/><circle cx="1241.17" cy="931" r="2.1"/><circle cx="1238.28" cy="686" r="2.1"/><circle cx="1238.24" cy="696" r="2.1"/><circle cx="1238.21" cy="706" r="2.1"/><circle cx="1238.17" cy="716" r="2.1"/><circle cx="1238.13" cy="726" r="2.1"/><circle cx="1238.09" cy="736" r="2.1"/><circle cx="1238.05" cy="746" r="2.1"/><circle cx="1238.02" cy="756" r="2.1"/><circle cx="1237.98" cy="766" r="2.1"/><circle cx="1237.94" cy="776" r="2.1"/><circle cx="1237.9" cy="786" r="2.1"/><circle cx="1237.86" cy="796" r="2.1"/><circle cx="1237.83" cy="806" r="2.1"/><circle cx="1237.79" cy="816" r="2.1"/><circle cx="1237.75" cy="826" r="2.1"/><circle cx="1237.71" cy="836" r="2.1"/><circle cx="1278.5" cy="674.1" r="2.1"/><circle cx="1278.61" cy="684.1" r="2.1"/><circle cx="1278.72" cy="694.1" r="2.1"/><circle cx="1278.83" cy="704.1" r="2.1"/><circle cx="1278.94" cy="714.1" r="2.1"/><circle cx="1279.05" cy="724.1" r="2.1"/><circle cx="1279.16" cy="734.1" r="2.1"/><circle cx="1279.27" cy="744.1" r="2.1"/><circle cx="1279.38" cy="754.1" r="2.1"/><circle cx="1279.49" cy="764.1" r="2.1"/><circle cx="1279.6" cy="774.1" r="2.1"/><circle cx="1279.71" cy="784.1" r="2.1"/><circle cx="1279.82" cy="794.1" r="2.1"/><circle cx="1279.93" cy="804.1" r="2.1"/><circle cx="1280.04" cy="814.1" r="2.1"/><circle cx="1280.15" cy="824.1" r="2.1"/><circle cx="1280.26" cy="834.1" r="2.1"/><circle cx="1280.37" cy="844.1" r="2.1"/><circle cx="1280.48" cy="854.1" r="2.1"/><circle cx="1280.59" cy="864.1" r="2.1"/><circle cx="1280.7" cy="874.1" r="2.1"/><circle cx="1280.81" cy="884.1" r="2.1"/><circle cx="1280.92" cy="894.1" r="2.1"/><circle cx="1281.03" cy="904.1" r="2.1"/><circle cx="1281.14" cy="914.1" r="2.1"/><circle cx="1281.25" cy="924.1" r="2.1"/><circle cx="1278.48" cy="679.1" r="2.1"/><circle cx="1278.44" cy="689.1" r="2.1"/><circle cx="1278.41" cy="699.1" r="2.1"/><circle cx="1278.37" cy="709.1" r="2.1"/><circle cx="1278.33" cy="719.1" r="2.1"/><circle cx="1278.29" cy="729.1" r="2.1"/><circle cx="1278.25" cy="739.1" r="2.1"/><circle cx="1278.22" cy="749.1" r="2.1"/><circle cx="1278.18" cy="759.1" r="2.1"/><circle cx="1278.14" cy="769.1" r="2.1"/><circle cx="1278.1" cy="779.1" r="2.1"/><circle cx="1278.07" cy="789.1" r="2.1"/><circle cx="1278.03" cy="799.1" r="2.1"/><circle cx="1277.99" cy="809.1" r="2.1"/><circle cx="1277.95" cy="819.1" r="2.1"/><circle cx="1277.92" cy="829.1" r="2.1"/><circle cx="1318.5" cy="666.5" r="2.1"/><circle cx="1318.63" cy="676.5" r="2.1"/><circle cx="1318.76" cy="686.5" r="2.1"/><circle cx="1318.89" cy="696.5" r="2.1"/><circle cx="1319.02" cy="706.5" r="2.1"/><circle cx="1319.16" cy="716.5" r="2.1"/><circle cx="1319.29" cy="726.5" r="2.1"/><circle cx="1319.42" cy="736.5" r="2.1"/><circle cx="1319.55" cy="746.5" r="2.1"/><circle cx="1319.68" cy="756.5" r="2.1"/><circle cx="1319.81" cy="766.5" r="2.1"/><circle cx="1319.94" cy="776.5" r="2.1"/><circle cx="1320.07" cy="786.5" r="2.1"/><circle cx="1320.2" cy="796.5" r="2.1"/><circle cx="1320.34" cy="806.5" r="2.1"/><circle cx="1320.47" cy="816.5" r="2.1"/><circle cx="1320.6" cy="826.5" r="2.1"/><circle cx="1320.73" cy="836.5" r="2.1"/><circle cx="1320.86" cy="846.5" r="2.1"/><circle cx="1320.99" cy="856.5" r="2.1"/><circle cx="1321.12" cy="866.5" r="2.1"/><circle cx="1321.25" cy="876.5" r="2.1"/><circle cx="1321.38" cy="886.5" r="2.1"/><circle cx="1321.52" cy="896.5" r="2.1"/><circle cx="1321.65" cy="906.5" r="2.1"/><circle cx="1321.78" cy="916.5" r="2.1"/><circle cx="1321.91" cy="926.5" r="2.1"/><circle cx="1318.48" cy="671.5" r="2.1"/><circle cx="1318.44" cy="681.5" r="2.1"/><circle cx="1318.41" cy="691.5" r="2.1"/><circle cx="1318.37" cy="701.5" r="2.1"/><circle cx="1318.33" cy="711.5" r="2.1"/><circle cx="1318.29" cy="721.5" r="2.1"/><circle cx="1318.26" cy="731.5" r="2.1"/><circle cx="1318.22" cy="741.5" r="2.1"/><circle cx="1318.18" cy="751.5" r="2.1"/><circle cx="1318.14" cy="761.5" r="2.1"/><circle cx="1318.11" cy="771.5" r="2.1"/><circle cx="1318.07" cy="781.5" r="2.1"/><circle cx="1318.03" cy="791.5" r="2.1"/><circle cx="1317.99" cy="801.5" r="2.1"/><circle cx="1317.96" cy="811.5" r="2.1"/><circle cx="1317.92" cy="821.5" r="2.1"/><circle cx="1358.5" cy="658.8" r="2.1"/><circle cx="1358.61" cy="668.8" r="2.1"/><circle cx="1358.71" cy="678.8" r="2.1"/><circle cx="1358.82" cy="688.8" r="2.1"/><circle cx="1358.93" cy="698.8" r="2.1"/><circle cx="1359.04" cy="708.8" r="2.1"/><circle cx="1359.14" cy="718.8" r="2.1"/><circle cx="1359.25" cy="728.8" r="2.1"/><circle cx="1359.36" cy="738.8" r="2.1"/><circle cx="1359.46" cy="748.8" r="2.1"/><circle cx="1359.57" cy="758.8" r="2.1"/><circle cx="1359.68" cy="768.8" r="2.1"/><circle cx="1359.79" cy="778.8" r="2.1"/><circle cx="1359.89" cy="788.8" r="2.1"/><circle cx="1360" cy="798.8" r="2.1"/><circle cx="1360.11" cy="808.8" r="2.1"/><circle cx="1360.22" cy="818.8" r="2.1"/><circle cx="1360.32" cy="828.8" r="2.1"/><circle cx="1360.43" cy="838.8" r="2.1"/><circle cx="1360.54" cy="848.8" r="2.1"/><circle cx="1360.64" cy="858.8" r="2.1"/><circle cx="1360.75" cy="868.8" r="2.1"/><circle cx="1360.86" cy="878.8" r="2.1"/><circle cx="1360.97" cy="888.8" r="2.1"/><circle cx="1361.07" cy="898.8" r="2.1"/><circle cx="1361.18" cy="908.8" r="2.1"/><circle cx="1361.29" cy="918.8" r="2.1"/><circle cx="1358.48" cy="663.8" r="2.1"/><circle cx="1358.44" cy="673.8" r="2.1"/><circle cx="1358.41" cy="683.8" r="2.1"/><circle cx="1358.37" cy="693.8" r="2.1"/><circle cx="1358.33" cy="703.8" r="2.1"/><circle cx="1358.3" cy="713.8" r="2.1"/><circle cx="1358.26" cy="723.8" r="2.1"/><circle cx="1358.22" cy="733.8" r="2.1"/><circle cx="1358.18" cy="743.8" r="2.1"/><circle cx="1358.15" cy="753.8" r="2.1"/><circle cx="1358.11" cy="763.8" r="2.1"/><circle cx="1358.07" cy="773.8" r="2.1"/><circle cx="1358.04" cy="783.8" r="2.1"/><circle cx="1358" cy="793.8" r="2.1"/><circle cx="1357.96" cy="803.8" r="2.1"/><circle cx="1357.92" cy="813.8" r="2.1"/><circle cx="1397.7" cy="650.8" r="2.1"/><circle cx="1397.8" cy="660.8" r="2.1"/><circle cx="1397.9" cy="670.8" r="2.1"/><circle cx="1398.01" cy="680.8" r="2.1"/><circle cx="1398.11" cy="690.8" r="2.1"/><circle cx="1398.21" cy="700.8" r="2.1"/><circle cx="1398.31" cy="710.8" r="2.1"/><circle cx="1398.42" cy="720.8" r="2.1"/><circle cx="1398.52" cy="730.8" r="2.1"/><circle cx="1398.62" cy="740.8" r="2.1"/><circle cx="1398.72" cy="750.8" r="2.1"/><circle cx="1398.83" cy="760.8" r="2.1"/><circle cx="1398.93" cy="770.8" r="2.1"/><circle cx="1399.03" cy="780.8" r="2.1"/><circle cx="1399.13" cy="790.8" r="2.1"/><circle cx="1399.23" cy="800.8" r="2.1"/><circle cx="1399.34" cy="810.8" r="2.1"/><circle cx="1399.44" cy="820.8" r="2.1"/><circle cx="1399.54" cy="830.8" r="2.1"/><circle cx="1399.64" cy="840.8" r="2.1"/><circle cx="1399.75" cy="850.8" r="2.1"/><circle cx="1399.85" cy="860.8" r="2.1"/><circle cx="1399.95" cy="870.8" r="2.1"/><circle cx="1400.05" cy="880.8" r="2.1"/><circle cx="1400.15" cy="890.8" r="2.1"/><circle cx="1400.26" cy="900.8" r="2.1"/><circle cx="1400.36" cy="910.8" r="2.1"/><circle cx="1397.68" cy="655.8" r="2.1"/><circle cx="1397.64" cy="665.8" r="2.1"/><circle cx="1397.61" cy="675.8" r="2.1"/><circle cx="1397.57" cy="685.8" r="2.1"/><circle cx="1397.53" cy="695.8" r="2.1"/><circle cx="1397.5" cy="705.8" r="2.1"/><circle cx="1397.46" cy="715.8" r="2.1"/><circle cx="1397.42" cy="725.8" r="2.1"/><circle cx="1397.39" cy="735.8" r="2.1"/><circle cx="1397.35" cy="745.8" r="2.1"/><circle cx="1397.31" cy="755.8" r="2.1"/><circle cx="1397.28" cy="765.8" r="2.1"/><circle cx="1397.24" cy="775.8" r="2.1"/><circle cx="1397.2" cy="785.8" r="2.1"/><circle cx="1397.17" cy="795.8" r="2.1"/><circle cx="1397.13" cy="805.8" r="2.1"/><circle cx="1436.4" cy="643.8" r="2.1"/><circle cx="1436.51" cy="653.8" r="2.1"/><circle cx="1436.62" cy="663.8" r="2.1"/><circle cx="1436.74" cy="673.8" r="2.1"/><circle cx="1436.85" cy="683.8" r="2.1"/><circle cx="1436.96" cy="693.8" r="2.1"/><circle cx="1437.07" cy="703.8" r="2.1"/><circle cx="1437.18" cy="713.8" r="2.1"/><circle cx="1437.3" cy="723.8" r="2.1"/><circle cx="1437.41" cy="733.8" r="2.1"/><circle cx="1437.52" cy="743.8" r="2.1"/><circle cx="1437.63" cy="753.8" r="2.1"/><circle cx="1437.74" cy="763.8" r="2.1"/><circle cx="1437.86" cy="773.8" r="2.1"/><circle cx="1437.97" cy="783.8" r="2.1"/><circle cx="1438.08" cy="793.8" r="2.1"/><circle cx="1438.19" cy="803.8" r="2.1"/><circle cx="1438.3" cy="813.8" r="2.1"/><circle cx="1438.42" cy="823.8" r="2.1"/><circle cx="1438.53" cy="833.8" r="2.1"/><circle cx="1438.64" cy="843.8" r="2.1"/><circle cx="1438.75" cy="853.8" r="2.1"/><circle cx="1438.87" cy="863.8" r="2.1"/><circle cx="1438.98" cy="873.8" r="2.1"/><circle cx="1439.09" cy="883.8" r="2.1"/><circle cx="1439.2" cy="893.8" r="2.1"/><circle cx="1439.31" cy="903.8" r="2.1"/><circle cx="1439.43" cy="913.8" r="2.1"/><circle cx="1436.38" cy="648.8" r="2.1"/><circle cx="1436.35" cy="658.8" r="2.1"/><circle cx="1436.31" cy="668.8" r="2.1"/><circle cx="1436.27" cy="678.8" r="2.1"/><circle cx="1436.24" cy="688.8" r="2.1"/><circle cx="1436.2" cy="698.8" r="2.1"/><circle cx="1436.16" cy="708.8" r="2.1"/><circle cx="1436.13" cy="718.8" r="2.1"/><circle cx="1436.09" cy="728.8" r="2.1"/><circle cx="1436.05" cy="738.8" r="2.1"/><circle cx="1436.02" cy="748.8" r="2.1"/><circle cx="1435.98" cy="758.8" r="2.1"/><circle cx="1435.94" cy="768.8" r="2.1"/><circle cx="1435.91" cy="778.8" r="2.1"/><circle cx="1435.87" cy="788.8" r="2.1"/><circle cx="1435.83" cy="798.8" r="2.1"/><circle cx="1475.4" cy="636.7" r="2.1"/><circle cx="1475.5" cy="646.7" r="2.1"/><circle cx="1475.6" cy="656.7" r="2.1"/><circle cx="1475.7" cy="666.7" r="2.1"/><circle cx="1475.8" cy="676.7" r="2.1"/><circle cx="1475.9" cy="686.7" r="2.1"/><circle cx="1476" cy="696.7" r="2.1"/><circle cx="1476.1" cy="706.7" r="2.1"/><circle cx="1476.2" cy="716.7" r="2.1"/><circle cx="1476.3" cy="726.7" r="2.1"/><circle cx="1476.4" cy="736.7" r="2.1"/><circle cx="1476.5" cy="746.7" r="2.1"/><circle cx="1476.61" cy="756.7" r="2.1"/><circle cx="1476.71" cy="766.7" r="2.1"/><circle cx="1476.81" cy="776.7" r="2.1"/><circle cx="1476.91" cy="786.7" r="2.1"/><circle cx="1477.01" cy="796.7" r="2.1"/><circle cx="1477.11" cy="806.7" r="2.1"/><circle cx="1477.21" cy="816.7" r="2.1"/><circle cx="1477.31" cy="826.7" r="2.1"/><circle cx="1477.41" cy="836.7" r="2.1"/><circle cx="1477.51" cy="846.7" r="2.1"/><circle cx="1477.61" cy="856.7" r="2.1"/><circle cx="1477.71" cy="866.7" r="2.1"/><circle cx="1477.81" cy="876.7" r="2.1"/><circle cx="1477.91" cy="886.7" r="2.1"/><circle cx="1478.01" cy="896.7" r="2.1"/><circle cx="1478.11" cy="906.7" r="2.1"/><circle cx="1475.38" cy="641.7" r="2.1"/><circle cx="1475.35" cy="651.7" r="2.1"/><circle cx="1475.31" cy="661.7" r="2.1"/><circle cx="1475.27" cy="671.7" r="2.1"/><circle cx="1475.24" cy="681.7" r="2.1"/><circle cx="1475.2" cy="691.7" r="2.1"/><circle cx="1475.16" cy="701.7" r="2.1"/><circle cx="1475.13" cy="711.7" r="2.1"/><circle cx="1475.09" cy="721.7" r="2.1"/><circle cx="1475.06" cy="731.7" r="2.1"/><circle cx="1475.02" cy="741.7" r="2.1"/><circle cx="1474.98" cy="751.7" r="2.1"/><circle cx="1474.95" cy="761.7" r="2.1"/><circle cx="1474.91" cy="771.7" r="2.1"/><circle cx="1474.87" cy="781.7" r="2.1"/><circle cx="1474.84" cy="791.7" r="2.1"/><circle cx="1513.3" cy="630.4" r="2.1"/><circle cx="1513.41" cy="640.4" r="2.1"/><circle cx="1513.52" cy="650.4" r="2.1"/><circle cx="1513.63" cy="660.4" r="2.1"/><circle cx="1513.74" cy="670.4" r="2.1"/><circle cx="1513.85" cy="680.4" r="2.1"/><circle cx="1513.96" cy="690.4" r="2.1"/><circle cx="1514.07" cy="700.4" r="2.1"/><circle cx="1514.18" cy="710.4" r="2.1"/><circle cx="1514.29" cy="720.4" r="2.1"/><circle cx="1514.4" cy="730.4" r="2.1"/><circle cx="1514.51" cy="740.4" r="2.1"/><circle cx="1514.62" cy="750.4" r="2.1"/><circle cx="1514.73" cy="760.4" r="2.1"/><circle cx="1514.84" cy="770.4" r="2.1"/><circle cx="1514.96" cy="780.4" r="2.1"/><circle cx="1515.07" cy="790.4" r="2.1"/><circle cx="1515.18" cy="800.4" r="2.1"/><circle cx="1515.29" cy="810.4" r="2.1"/><circle cx="1515.4" cy="820.4" r="2.1"/><circle cx="1515.51" cy="830.4" r="2.1"/><circle cx="1515.62" cy="840.4" r="2.1"/><circle cx="1515.73" cy="850.4" r="2.1"/><circle cx="1515.84" cy="860.4" r="2.1"/><circle cx="1515.95" cy="870.4" r="2.1"/><circle cx="1516.06" cy="880.4" r="2.1"/><circle cx="1516.17" cy="890.4" r="2.1"/><circle cx="1516.28" cy="900.4" r="2.1"/><circle cx="1513.28" cy="635.4" r="2.1"/><circle cx="1513.25" cy="645.4" r="2.1"/><circle cx="1513.21" cy="655.4" r="2.1"/><circle cx="1513.17" cy="665.4" r="2.1"/><circle cx="1513.14" cy="675.4" r="2.1"/><circle cx="1513.1" cy="685.4" r="2.1"/><circle cx="1513.06" cy="695.4" r="2.1"/><circle cx="1513.03" cy="705.4" r="2.1"/><circle cx="1512.99" cy="715.4" r="2.1"/><circle cx="1512.96" cy="725.4" r="2.1"/><circle cx="1512.92" cy="735.4" r="2.1"/><circle cx="1512.88" cy="745.4" r="2.1"/><circle cx="1512.85" cy="755.4" r="2.1"/><circle cx="1512.81" cy="765.4" r="2.1"/><circle cx="1512.77" cy="775.4" r="2.1"/><circle cx="1512.74" cy="785.4" r="2.1"/><circle cx="1551.2" cy="622.9" r="2.1"/><circle cx="1551.28" cy="632.9" r="2.1"/><circle cx="1551.36" cy="642.9" r="2.1"/><circle cx="1551.44" cy="652.9" r="2.1"/><circle cx="1551.52" cy="662.9" r="2.1"/><circle cx="1551.61" cy="672.9" r="2.1"/><circle cx="1551.69" cy="682.9" r="2.1"/><circle cx="1551.77" cy="692.9" r="2.1"/><circle cx="1551.85" cy="702.9" r="2.1"/><circle cx="1551.93" cy="712.9" r="2.1"/><circle cx="1552.01" cy="722.9" r="2.1"/><circle cx="1552.09" cy="732.9" r="2.1"/><circle cx="1552.17" cy="742.9" r="2.1"/><circle cx="1552.25" cy="752.9" r="2.1"/><circle cx="1552.34" cy="762.9" r="2.1"/><circle cx="1552.42" cy="772.9" r="2.1"/><circle cx="1552.5" cy="782.9" r="2.1"/><circle cx="1552.58" cy="792.9" r="2.1"/><circle cx="1552.66" cy="802.9" r="2.1"/><circle cx="1552.74" cy="812.9" r="2.1"/><circle cx="1552.82" cy="822.9" r="2.1"/><circle cx="1552.9" cy="832.9" r="2.1"/><circle cx="1552.99" cy="842.9" r="2.1"/><circle cx="1553.07" cy="852.9" r="2.1"/><circle cx="1553.15" cy="862.9" r="2.1"/><circle cx="1553.23" cy="872.9" r="2.1"/><circle cx="1553.31" cy="882.9" r="2.1"/><circle cx="1553.39" cy="892.9" r="2.1"/><circle cx="1551.18" cy="627.9" r="2.1"/><circle cx="1551.15" cy="637.9" r="2.1"/><circle cx="1551.11" cy="647.9" r="2.1"/><circle cx="1551.07" cy="657.9" r="2.1"/><circle cx="1551.04" cy="667.9" r="2.1"/><circle cx="1551" cy="677.9" r="2.1"/><circle cx="1550.97" cy="687.9" r="2.1"/><circle cx="1550.93" cy="697.9" r="2.1"/><circle cx="1550.89" cy="707.9" r="2.1"/><circle cx="1550.86" cy="717.9" r="2.1"/><circle cx="1550.82" cy="727.9" r="2.1"/><circle cx="1550.79" cy="737.9" r="2.1"/><circle cx="1550.75" cy="747.9" r="2.1"/><circle cx="1550.71" cy="757.9" r="2.1"/><circle cx="1550.68" cy="767.9" r="2.1"/><circle cx="1550.64" cy="777.9" r="2.1"/></g>
<g font-size="16" fill="#000"><text transform="translate(824.8 774.7) rotate(-85)">n=1</text><text transform="translate(869 763.2) rotate(-85)">n=2</text><text transform="translate(912.7 753.2) rotate(-85)">n=3</text><text transform="translate(956.7 742.4) rotate(-85)">n=4</text><text transform="translate(999.8 734.3) rotate(-85)">n=5</text><text transform="translate(1042.1 724.9) rotate(-85)">n=6</text><text transform="translate(1085 717.1) rotate(-85)">n=7</text><text transform="translate(1126.5 708) rotate(-85)">n=8</text><text transform="translate(1167.5 701) rotate(-85)">n=9</text><text transform="translate(1250 684.9) rotate(-85)">n=10</text><text transform="translate(1409.4 654.7) rotate(-85)">n=11</text><text transform="translate(1448.1 647.7) rotate(-85)">n=12</text><text transform="translate(1487.1 640.6) rotate(-85)">n=13</text><text transform="translate(1525 634.3) rotate(-85)">n=14</text><text transform="translate(1562.9 626.8) rotate(-85)">n=15</text></g>
<rect x="225.5" y="144.5" width="1395" height="924" fill="none" stroke="#000" stroke-width="1.1"/>
<g stroke="#000" stroke-width="5.56" stroke-linecap="butt"><line x1="234.69" y1="1068" x2="234.69" y2="1079.1"/><line x1="285.25" y1="1068" x2="285.25" y2="1079.1"/><line x1="335.81" y1="1068" x2="335.81" y2="1084.7"/><line x1="386.37" y1="1068" x2="386.37" y2="1079.1"/><line x1="436.93" y1="1068" x2="436.93" y2="1079.1"/><line x1="487.49" y1="1068" x2="487.49" y2="1079.1"/><line x1="538.05" y1="1068" x2="538.05" y2="1084.7"/><line x1="588.61" y1="1068" x2="588.61" y2="1079.1"/><line x1="639.17" y1="1068" x2="639.17" y2="1079.1"/><line x1="689.73" y1="1068" x2="689.73" y2="1079.1"/><line x1="740.29" y1="1068" x2="740.29" y2="1084.7"/><line x1="790.85" y1="1068" x2="790.85" y2="1079.1"/><line x1="841.41" y1="1068" x2="841.41" y2="1079.1"/><line x1="891.97" y1="1068" x2="891.97" y2="1079.1"/><line x1="942.53" y1="1068" x2="942.53" y2="1084.7"/><line x1="993.09" y1="1068" x2="993.09" y2="1079.1"/><line x1="1043.65" y1="1068" x2="1043.65" y2="1079.1"/><line x1="1094.21" y1="1068" x2="1094.21" y2="1079.1"/><line x1="1144.77" y1="1068" x2="1144.77" y2="1084.7"/><line x1="1195.33" y1="1068" x2="1195.33" y2="1079.1"/><line x1="1245.89" y1="1068" x2="1245.89" y2="1079.1"/><line x1="1296.45" y1="1068" x2="1296.45" y2="1079.1"/><line x1="1347.01" y1="1068" x2="1347.01" y2="1084.7"/><line x1="1397.57" y1="1068" x2="1397.57" y2="1079.1"/><line x1="1448.13" y1="1068" x2="1448.13" y2="1079.1"/><line x1="1498.69" y1="1068" x2="1498.69" y2="1079.1"/><line x1="1549.25" y1="1068" x2="1549.25" y2="1084.7"/><line x1="1599.81" y1="1068" x2="1599.81" y2="1079.1"/><line x1="213.9" y1="1028.93" x2="225" y2="1028.93"/><line x1="213.9" y1="988.35" x2="225" y2="988.35"/><line x1="213.9" y1="947.76" x2="225" y2="947.76"/><line x1="213.9" y1="907.18" x2="225" y2="907.18"/><line x1="208.3" y1="866.6" x2="225" y2="866.6"/><line x1="213.9" y1="826.02" x2="225" y2="826.02"/><line x1="213.9" y1="785.44" x2="225" y2="785.44"/><line x1="213.9" y1="744.85" x2="225" y2="744.85"/><line x1="213.9" y1="704.27" x2="225" y2="704.27"/><line x1="208.3" y1="663.69" x2="225" y2="663.69"/><line x1="213.9" y1="623.11" x2="225" y2="623.11"/><line x1="213.9" y1="582.53" x2="225" y2="582.53"/><line x1="213.9" y1="541.94" x2="225" y2="541.94"/><line x1="213.9" y1="501.36" x2="225" y2="501.36"/><line x1="208.3" y1="460.78" x2="225" y2="460.78"/><line x1="213.9" y1="420.2" x2="225" y2="420.2"/><line x1="213.9" y1="379.62" x2="225" y2="379.62"/><line x1="213.9" y1="339.03" x2="225" y2="339.03"/><line x1="213.9" y1="298.45" x2="225" y2="298.45"/><line x1="208.3" y1="257.87" x2="225" y2="257.87"/><line x1="213.9" y1="217.29" x2="225" y2="217.29"/><line x1="213.9" y1="176.71" x2="225" y2="176.71"/></g>
<g font-size="36.11" fill="#000"><text x="335.81" y="1116.8" text-anchor="middle">100.28</text><text x="538.05" y="1116.8" text-anchor="middle">100.30</text><text x="740.29" y="1116.8" text-anchor="middle">100.32</text><text x="942.53" y="1116.8" text-anchor="middle">100.34</text><text x="1144.77" y="1116.8" text-anchor="middle">100.36</text><text x="1347.01" y="1116.8" text-anchor="middle">100.38</text><text x="1549.25" y="1116.8" text-anchor="middle">100.40</text><text x="203.1" y="880.7" text-anchor="end">200</text><text x="203.1" y="677.79" text-anchor="end">300</text><text x="203.1" y="474.88" text-anchor="end">400</text><text x="203.1" y="271.97" text-anchor="end">500</text></g>
<text x="922.5" y="1160" font-size="41.67" text-anchor="middle">Age (Myr)</text>
<text transform="translate(118.8 607.4) rotate(-90)" font-size="41.67" text-anchor="middle">O1 period (days)</text>
<rect x="235.5" y="154.5" width="306.5" height="91.75" rx="4" ry="4" fill="#fff" fill-opacity="0.8" stroke="#d6d6d6" stroke-width="1.2"/>
<line x1="243" y1="171" x2="286" y2="171" stroke="#000" stroke-width="2.08"/>
<circle cx="265.5" cy="171" r="2.1" fill="#000"/>
<circle cx="265.5" cy="216.5" r="7" fill="#ffff00" fill-opacity="0.25" stroke="#ffff00" stroke-opacity="0.3" stroke-width="1.2"/>
<g font-size="20.83" fill="#000">
<text x="302.4" y="179">m4.60_z0.0080</text>
<text x="302.4" y="209.8">intersection w/ P,L,T,R</text>
<text x="302.4" y="232.5">loosely defined</text>
</g>
</svg>
</body></html>
